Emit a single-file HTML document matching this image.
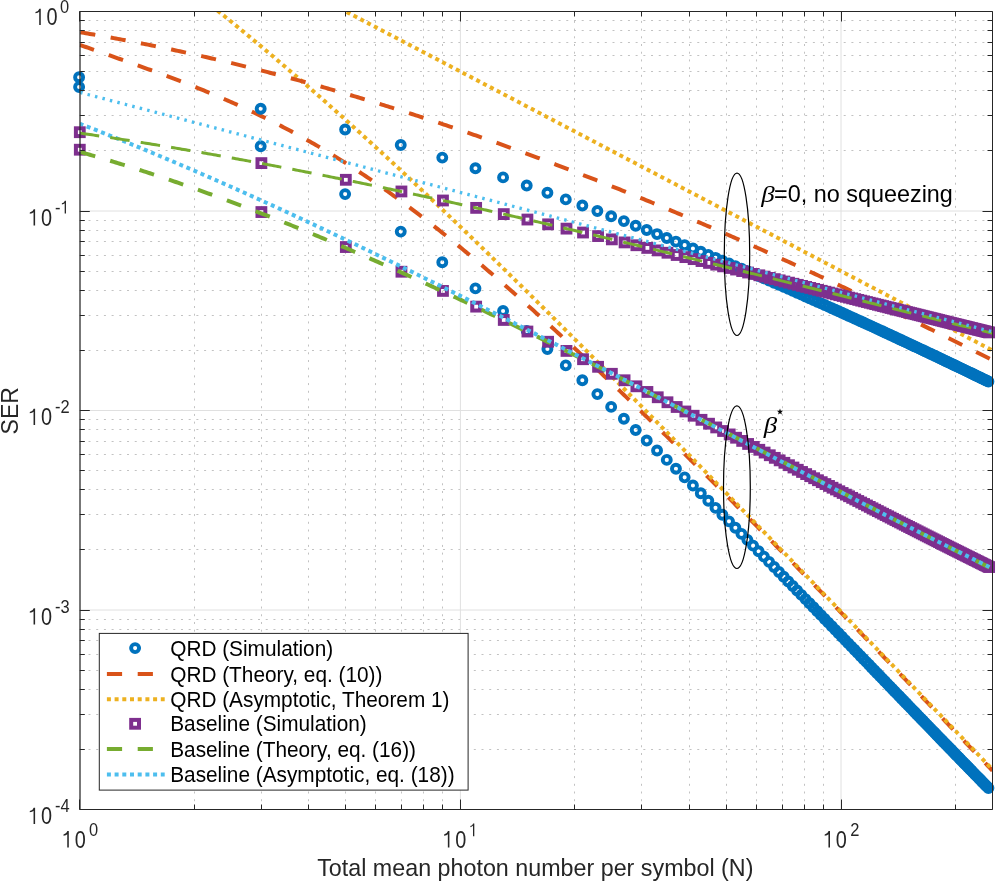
<!DOCTYPE html><html><head><meta charset='utf-8'><style>html,body{margin:0;padding:0;background:#fff;width:996px;height:881px;overflow:hidden}
.mg{stroke:#c2c2c2;stroke-width:1;stroke-dasharray:2 5.706;stroke-dashoffset:6.706}
.mgv{stroke:#c2c2c2;stroke-width:1;stroke-dasharray:2 5.706;stroke-dashoffset:6.006}
.Mg{stroke:#e0e0e0;stroke-width:1}</style></head><body><svg width="996" height="881" viewBox="0 0 996 881" style="display:block;will-change:transform">
<rect width="996" height="881" fill="#fff"/>
<defs><clipPath id="ax"><rect x="79.8" y="11.5" width="912.7" height="798.0"/></clipPath></defs>
<g><line x1="194.50" y1="11.5" x2="194.50" y2="809.5" class="mgv"/><line x1="261.50" y1="11.5" x2="261.50" y2="809.5" class="mgv"/><line x1="308.50" y1="11.5" x2="308.50" y2="809.5" class="mgv"/><line x1="345.50" y1="11.5" x2="345.50" y2="809.5" class="mgv"/><line x1="375.50" y1="11.5" x2="375.50" y2="809.5" class="mgv"/><line x1="401.50" y1="11.5" x2="401.50" y2="809.5" class="mgv"/><line x1="423.50" y1="11.5" x2="423.50" y2="809.5" class="mgv"/><line x1="442.50" y1="11.5" x2="442.50" y2="809.5" class="mgv"/><line x1="574.50" y1="11.5" x2="574.50" y2="809.5" class="mgv"/><line x1="641.50" y1="11.5" x2="641.50" y2="809.5" class="mgv"/><line x1="689.50" y1="11.5" x2="689.50" y2="809.5" class="mgv"/><line x1="726.50" y1="11.5" x2="726.50" y2="809.5" class="mgv"/><line x1="756.50" y1="11.5" x2="756.50" y2="809.5" class="mgv"/><line x1="782.50" y1="11.5" x2="782.50" y2="809.5" class="mgv"/><line x1="804.50" y1="11.5" x2="804.50" y2="809.5" class="mgv"/><line x1="823.50" y1="11.5" x2="823.50" y2="809.5" class="mgv"/><line x1="955.50" y1="11.5" x2="955.50" y2="809.5" class="mgv"/><line x1="79.8" y1="150.50" x2="992.5" y2="150.50" class="mg"/><line x1="79.8" y1="115.50" x2="992.5" y2="115.50" class="mg"/><line x1="79.8" y1="90.50" x2="992.5" y2="90.50" class="mg"/><line x1="79.8" y1="71.50" x2="992.5" y2="71.50" class="mg"/><line x1="79.8" y1="55.50" x2="992.5" y2="55.50" class="mg"/><line x1="79.8" y1="42.50" x2="992.5" y2="42.50" class="mg"/><line x1="79.8" y1="30.50" x2="992.5" y2="30.50" class="mg"/><line x1="79.8" y1="20.50" x2="992.5" y2="20.50" class="mg"/><line x1="79.8" y1="350.50" x2="992.5" y2="350.50" class="mg"/><line x1="79.8" y1="315.50" x2="992.5" y2="315.50" class="mg"/><line x1="79.8" y1="290.50" x2="992.5" y2="290.50" class="mg"/><line x1="79.8" y1="271.50" x2="992.5" y2="271.50" class="mg"/><line x1="79.8" y1="255.50" x2="992.5" y2="255.50" class="mg"/><line x1="79.8" y1="241.50" x2="992.5" y2="241.50" class="mg"/><line x1="79.8" y1="230.50" x2="992.5" y2="230.50" class="mg"/><line x1="79.8" y1="220.50" x2="992.5" y2="220.50" class="mg"/><line x1="79.8" y1="549.50" x2="992.5" y2="549.50" class="mg"/><line x1="79.8" y1="514.50" x2="992.5" y2="514.50" class="mg"/><line x1="79.8" y1="489.50" x2="992.5" y2="489.50" class="mg"/><line x1="79.8" y1="470.50" x2="992.5" y2="470.50" class="mg"/><line x1="79.8" y1="454.50" x2="992.5" y2="454.50" class="mg"/><line x1="79.8" y1="441.50" x2="992.5" y2="441.50" class="mg"/><line x1="79.8" y1="429.50" x2="992.5" y2="429.50" class="mg"/><line x1="79.8" y1="419.50" x2="992.5" y2="419.50" class="mg"/><line x1="79.8" y1="749.50" x2="992.5" y2="749.50" class="mg"/><line x1="79.8" y1="714.50" x2="992.5" y2="714.50" class="mg"/><line x1="79.8" y1="689.50" x2="992.5" y2="689.50" class="mg"/><line x1="79.8" y1="670.50" x2="992.5" y2="670.50" class="mg"/><line x1="79.8" y1="654.50" x2="992.5" y2="654.50" class="mg"/><line x1="79.8" y1="640.50" x2="992.5" y2="640.50" class="mg"/><line x1="79.8" y1="629.50" x2="992.5" y2="629.50" class="mg"/><line x1="79.8" y1="619.50" x2="992.5" y2="619.50" class="mg"/><line x1="460.40" y1="11.5" x2="460.40" y2="809.5" class="Mg"/><line x1="841.00" y1="11.5" x2="841.00" y2="809.5" class="Mg"/><line x1="79.8" y1="211.00" x2="992.5" y2="211.00" class="Mg"/><line x1="79.8" y1="410.50" x2="992.5" y2="410.50" class="Mg"/><line x1="79.8" y1="610.00" x2="992.5" y2="610.00" class="Mg"/></g>
<g fill="none" stroke="#0072BD" stroke-width="3.9"><circle cx="79.10" cy="87.05" r="4.0"/><circle cx="260.69" cy="146.20" r="4.0"/><circle cx="345.13" cy="194.11" r="4.0"/><circle cx="400.74" cy="231.59" r="4.0"/><circle cx="442.28" cy="262.31" r="4.0"/><circle cx="475.45" cy="288.37" r="4.0"/><circle cx="503.07" cy="311.02" r="4.0"/><circle cx="526.72" cy="331.07" r="4.0"/><circle cx="547.41" cy="349.05" r="4.0"/><circle cx="565.79" cy="365.37" r="4.0"/><circle cx="582.34" cy="380.31" r="4.0"/><circle cx="597.37" cy="394.09" r="4.0"/><circle cx="611.16" cy="406.88" r="4.0"/><circle cx="623.88" cy="418.81" r="4.0"/><circle cx="635.69" cy="430.00" r="4.0"/><circle cx="646.71" cy="440.52" r="4.0"/><circle cx="657.05" cy="450.46" r="4.0"/><circle cx="666.77" cy="459.88" r="4.0"/><circle cx="675.96" cy="468.82" r="4.0"/><circle cx="684.66" cy="477.34" r="4.0"/><circle cx="692.93" cy="485.47" r="4.0"/><circle cx="700.80" cy="493.25" r="4.0"/><circle cx="708.31" cy="500.70" r="4.0"/><circle cx="715.50" cy="507.85" r="4.0"/><circle cx="722.39" cy="514.73" r="4.0"/><circle cx="729.00" cy="521.36" r="4.0"/><circle cx="735.36" cy="527.74" r="4.0"/><circle cx="741.48" cy="533.91" r="4.0"/><circle cx="747.39" cy="539.87" r="4.0"/><circle cx="753.09" cy="545.64" r="4.0"/><circle cx="758.60" cy="551.22" r="4.0"/><circle cx="763.93" cy="556.64" r="4.0"/><circle cx="769.09" cy="561.90" r="4.0"/><circle cx="774.10" cy="567.00" r="4.0"/><circle cx="778.97" cy="571.96" r="4.0"/><circle cx="783.69" cy="576.79" r="4.0"/><circle cx="788.28" cy="581.49" r="4.0"/><circle cx="792.75" cy="586.06" r="4.0"/><circle cx="797.10" cy="590.52" r="4.0"/><circle cx="801.34" cy="594.88" r="4.0"/><circle cx="805.47" cy="599.12" r="4.0"/><circle cx="809.50" cy="603.27" r="4.0"/><circle cx="813.44" cy="607.32" r="4.0"/><circle cx="817.28" cy="611.28" r="4.0"/><circle cx="821.04" cy="615.15" r="4.0"/><circle cx="824.71" cy="618.94" r="4.0"/><circle cx="828.30" cy="622.65" r="4.0"/><circle cx="831.82" cy="626.28" r="4.0"/><circle cx="835.27" cy="629.84" r="4.0"/><circle cx="838.64" cy="633.32" r="4.0"/><circle cx="841.94" cy="636.74" r="4.0"/><circle cx="845.19" cy="640.10" r="4.0"/><circle cx="848.36" cy="643.38" r="4.0"/><circle cx="851.48" cy="646.61" r="4.0"/><circle cx="854.54" cy="649.78" r="4.0"/><circle cx="857.55" cy="652.89" r="4.0"/><circle cx="860.50" cy="655.95" r="4.0"/><circle cx="863.40" cy="658.96" r="4.0"/><circle cx="866.25" cy="661.91" r="4.0"/><circle cx="869.05" cy="664.81" r="4.0"/><circle cx="871.81" cy="667.67" r="4.0"/><circle cx="874.52" cy="670.48" r="4.0"/><circle cx="877.18" cy="673.24" r="4.0"/><circle cx="879.81" cy="675.96" r="4.0"/><circle cx="882.39" cy="678.64" r="4.0"/><circle cx="884.93" cy="681.27" r="4.0"/><circle cx="887.44" cy="683.87" r="4.0"/><circle cx="889.91" cy="686.43" r="4.0"/><circle cx="892.34" cy="688.95" r="4.0"/><circle cx="894.73" cy="691.43" r="4.0"/><circle cx="897.09" cy="693.88" r="4.0"/><circle cx="899.42" cy="696.29" r="4.0"/><circle cx="901.72" cy="698.67" r="4.0"/><circle cx="903.98" cy="701.02" r="4.0"/><circle cx="906.21" cy="703.33" r="4.0"/><circle cx="908.42" cy="705.61" r="4.0"/><circle cx="910.59" cy="707.87" r="4.0"/><circle cx="912.74" cy="710.09" r="4.0"/><circle cx="914.86" cy="712.28" r="4.0"/><circle cx="916.95" cy="714.45" r="4.0"/><circle cx="919.02" cy="716.59" r="4.0"/><circle cx="921.06" cy="718.70" r="4.0"/><circle cx="923.07" cy="720.79" r="4.0"/><circle cx="925.07" cy="722.85" r="4.0"/><circle cx="927.03" cy="724.88" r="4.0"/><circle cx="928.98" cy="726.89" r="4.0"/><circle cx="930.90" cy="728.88" r="4.0"/><circle cx="932.80" cy="730.84" r="4.0"/><circle cx="934.68" cy="732.79" r="4.0"/><circle cx="936.54" cy="734.70" r="4.0"/><circle cx="938.37" cy="736.60" r="4.0"/><circle cx="940.19" cy="738.48" r="4.0"/><circle cx="941.99" cy="740.33" r="4.0"/><circle cx="943.76" cy="742.17" r="4.0"/><circle cx="945.52" cy="743.98" r="4.0"/><circle cx="947.26" cy="745.77" r="4.0"/><circle cx="948.98" cy="747.55" r="4.0"/><circle cx="950.69" cy="749.31" r="4.0"/><circle cx="952.37" cy="751.04" r="4.0"/><circle cx="954.04" cy="752.76" r="4.0"/><circle cx="955.70" cy="754.47" r="4.0"/><circle cx="957.33" cy="756.15" r="4.0"/><circle cx="958.95" cy="757.82" r="4.0"/><circle cx="960.56" cy="759.47" r="4.0"/><circle cx="962.15" cy="761.10" r="4.0"/><circle cx="963.72" cy="762.72" r="4.0"/><circle cx="965.28" cy="764.33" r="4.0"/><circle cx="966.83" cy="765.91" r="4.0"/><circle cx="968.36" cy="767.49" r="4.0"/><circle cx="969.87" cy="769.04" r="4.0"/><circle cx="971.38" cy="770.58" r="4.0"/><circle cx="972.86" cy="772.11" r="4.0"/><circle cx="974.34" cy="773.63" r="4.0"/><circle cx="975.80" cy="775.13" r="4.0"/><circle cx="977.25" cy="776.61" r="4.0"/><circle cx="978.69" cy="778.08" r="4.0"/><circle cx="980.12" cy="779.54" r="4.0"/><circle cx="981.53" cy="780.99" r="4.0"/><circle cx="982.93" cy="782.42" r="4.0"/><circle cx="984.32" cy="783.85" r="4.0"/><circle cx="985.70" cy="785.25" r="4.0"/><circle cx="987.06" cy="786.65" r="4.0"/><circle cx="988.42" cy="788.04" r="4.0"/></g>
<g clip-path="url(#ax)" fill="none">
<path d="M79.80,44.87 L81.80,45.58 L83.80,46.29 L85.80,47.00 L87.80,47.71 L89.80,48.42 L91.80,49.13 L93.80,49.84 L95.80,50.54 L97.80,51.25 L99.80,51.96 L101.80,52.66 L103.80,53.37 L105.80,54.07 L107.80,54.78 L109.80,55.48 L111.80,56.19 L113.80,56.89 L115.80,57.60 L117.80,58.31 L119.80,59.01 L121.80,59.72 L123.80,60.43 L125.80,61.14 L127.80,61.85 L129.80,62.56 L131.80,63.27 L133.80,63.98 L135.80,64.70 L137.80,65.41 L139.80,66.13 L141.80,66.85 L143.80,67.57 L145.80,68.30 L147.80,69.02 L149.80,69.75 L151.80,70.48 L153.80,71.21 L155.80,71.94 L157.80,72.67 L159.80,73.41 L161.80,74.15 L163.80,74.90 L165.80,75.64 L167.80,76.39 L169.80,77.14 L171.80,77.90 L173.80,78.65 L175.80,79.42 L177.80,80.18 L179.80,80.95 L181.80,81.72 L183.80,82.49 L185.80,83.27 L187.80,84.05 L189.80,84.84 L191.80,85.63 L193.80,86.42 L195.80,87.22 L197.80,88.02 L199.80,88.83 L201.80,89.64 L203.80,90.46 L205.80,91.28 L207.80,92.10 L209.80,92.93 L211.80,93.77 L213.80,94.61 L215.80,95.45 L217.80,96.30 L219.80,97.16 L221.80,98.02 L223.80,98.88 L225.80,99.75 L227.80,100.62 L229.80,101.50 L231.80,102.39 L233.80,103.28 L235.80,104.18 L237.80,105.08 L239.80,105.98 L241.80,106.89 L243.80,107.81 L245.80,108.74 L247.80,109.66 L249.80,110.60 L251.80,111.54 L253.80,112.49 L255.80,113.44 L257.80,114.40 L259.80,115.36 L261.80,116.33 L263.80,117.31 L265.80,118.29 L267.80,119.28 L269.80,120.27 L271.80,121.27 L273.80,122.28 L275.80,123.29 L277.80,124.31 L279.80,125.34 L281.80,126.37 L283.80,127.41 L285.80,128.45 L287.80,129.51 L289.80,130.57 L291.80,131.63 L293.80,132.70 L295.80,133.78 L297.80,134.87 L299.80,135.96 L301.80,137.06 L303.80,138.17 L305.80,139.29 L307.80,140.41 L309.80,141.54 L311.80,142.67 L313.80,143.82 L315.80,144.97 L317.80,146.12 L319.80,147.29 L321.80,148.46 L323.80,149.64 L325.80,150.83 L327.80,152.03 L329.80,153.23 L331.80,154.44 L333.80,155.66 L335.80,156.89 L337.80,158.12 L339.80,159.37 L341.80,160.62 L343.80,161.87 L345.80,163.14 L347.80,164.42 L349.80,165.70 L351.80,166.99 L353.80,168.29 L355.80,169.59 L357.80,170.90 L359.80,172.23 L361.80,173.55 L363.80,174.89 L365.80,176.23 L367.80,177.58 L369.80,178.94 L371.80,180.31 L373.80,181.68 L375.80,183.06 L377.80,184.45 L379.80,185.84 L381.80,187.24 L383.80,188.65 L385.80,190.07 L387.80,191.49 L389.80,192.92 L391.80,194.35 L393.80,195.80 L395.80,197.25 L397.80,198.70 L399.80,200.17 L401.80,201.64 L403.80,203.11 L405.80,204.59 L407.80,206.08 L409.80,207.58 L411.80,209.08 L413.80,210.59 L415.80,212.10 L417.80,213.62 L419.80,215.15 L421.80,216.68 L423.80,218.22 L425.80,219.77 L427.80,221.32 L429.80,222.88 L431.80,224.44 L433.80,226.01 L435.80,227.58 L437.80,229.16 L439.80,230.75 L441.80,232.34 L443.80,233.94 L445.80,235.54 L447.80,237.15 L449.80,238.76 L451.80,240.38 L453.80,242.01 L455.80,243.64 L457.80,245.27 L459.80,246.91 L461.80,248.56 L463.80,250.21 L465.80,251.87 L467.80,253.53 L469.80,255.19 L471.80,256.86 L473.80,258.54 L475.80,260.22 L477.80,261.90 L479.80,263.59 L481.80,265.29 L483.80,266.99 L485.80,268.69 L487.80,270.40 L489.80,272.11 L491.80,273.83 L493.80,275.55 L495.80,277.28 L497.80,279.01 L499.80,280.75 L501.80,282.49 L503.80,284.23 L505.80,285.98 L507.80,287.73 L509.80,289.48 L511.80,291.24 L513.80,293.01 L515.80,294.77 L517.80,296.55 L519.80,298.32 L521.80,300.10 L523.80,301.88 L525.80,303.67 L527.80,305.46 L529.80,307.25 L531.80,309.05 L533.80,310.85 L535.80,312.65 L537.80,314.46 L539.80,316.27 L541.80,318.08 L543.80,319.90 L545.80,321.72 L547.80,323.54 L549.80,325.37 L551.80,327.20 L553.80,329.03 L555.80,330.87 L557.80,332.71 L559.80,334.55 L561.80,336.39 L563.80,338.24 L565.80,340.09 L567.80,341.94 L569.80,343.79 L571.80,345.65 L573.80,347.51 L575.80,349.37 L577.80,351.24 L579.80,353.10 L581.80,354.97 L583.80,356.84 L585.80,358.72 L587.80,360.59 L589.80,362.47 L591.80,364.35 L593.80,366.24 L595.80,368.12 L597.80,370.01 L599.80,371.90 L601.80,373.79 L603.80,375.69 L605.80,377.58 L607.80,379.48 L609.80,381.38 L611.80,383.28 L613.80,385.19 L615.80,387.10 L617.80,389.01 L619.80,390.92 L621.80,392.83 L623.80,394.75 L625.80,396.66 L627.80,398.58 L629.80,400.50 L631.80,402.43 L633.80,404.35 L635.80,406.28 L637.80,408.21 L639.80,410.14 L641.80,412.08 L643.80,414.01 L645.80,415.95 L647.80,417.89 L649.80,419.83 L651.80,421.78 L653.80,423.72 L655.80,425.67 L657.80,427.62 L659.80,429.57 L661.80,431.52 L663.80,433.48 L665.80,435.43 L667.80,437.39 L669.80,439.35 L671.80,441.31 L673.80,443.28 L675.80,445.24 L677.80,447.21 L679.80,449.18 L681.80,451.15 L683.80,453.12 L685.80,455.10 L687.80,457.07 L689.80,459.05 L691.80,461.03 L693.80,463.01 L695.80,464.99 L697.80,466.98 L699.80,468.96 L701.80,470.95 L703.80,472.94 L705.80,474.93 L707.80,476.92 L709.80,478.92 L711.80,480.91 L713.80,482.91 L715.80,484.91 L717.80,486.91 L719.80,488.91 L721.80,490.91 L723.80,492.91 L725.80,494.92 L727.80,496.93 L729.80,498.94 L731.80,500.95 L733.80,502.96 L735.80,504.97 L737.80,506.99 L739.80,509.00 L741.80,511.02 L743.80,513.04 L745.80,515.06 L747.80,517.08 L749.80,519.10 L751.80,521.13 L753.80,523.15 L755.80,525.18 L757.80,527.20 L759.80,529.23 L761.80,531.26 L763.80,533.30 L765.80,535.33 L767.80,537.36 L769.80,539.40 L771.80,541.43 L773.80,543.47 L775.80,545.51 L777.80,547.55 L779.80,549.59 L781.80,551.63 L783.80,553.68 L785.80,555.72 L787.80,557.77 L789.80,559.81 L791.80,561.86 L793.80,563.91 L795.80,565.96 L797.80,568.01 L799.80,570.06 L801.80,572.12 L803.80,574.17 L805.80,576.22 L807.80,578.28 L809.80,580.34 L811.80,582.40 L813.80,584.45 L815.80,586.51 L817.80,588.57 L819.80,590.64 L821.80,592.70 L823.80,594.76 L825.80,596.83 L827.80,598.89 L829.80,600.96 L831.80,603.02 L833.80,605.09 L835.80,607.16 L837.80,609.23 L839.80,611.30 L841.80,613.37 L843.80,615.44 L845.80,617.51 L847.80,619.59 L849.80,621.66 L851.80,623.73 L853.80,625.81 L855.80,627.88 L857.80,629.96 L859.80,632.04 L861.80,634.12 L863.80,636.19 L865.80,638.27 L867.80,640.35 L869.80,642.43 L871.80,644.51 L873.80,646.60 L875.80,648.68 L877.80,650.76 L879.80,652.84 L881.80,654.93 L883.80,657.01 L885.80,659.10 L887.80,661.18 L889.80,663.27 L891.80,665.35 L893.80,667.44 L895.80,669.53 L897.80,671.61 L899.80,673.70 L901.80,675.79 L903.80,677.88 L905.80,679.97 L907.80,682.06 L909.80,684.15 L911.80,686.24 L913.80,688.33 L915.80,690.42 L917.80,692.51 L919.80,694.60 L921.80,696.69 L923.80,698.79 L925.80,700.88 L927.80,702.97 L929.80,705.06 L931.80,707.16 L933.80,709.25 L935.80,711.34 L937.80,713.44 L939.80,715.53 L941.80,717.63 L943.80,719.72 L945.80,721.81 L947.80,723.91 L949.80,726.00 L951.80,728.10 L953.80,730.19 L955.80,732.29 L957.80,734.38 L959.80,736.48 L961.80,738.57 L963.80,740.67 L965.80,742.76 L967.80,744.86 L969.80,746.96 L971.80,749.05 L973.80,751.15 L975.80,753.24 L977.80,755.34 L979.80,757.43 L981.80,759.53 L983.80,761.62 L985.80,763.72 L987.80,765.81 L989.80,767.91 L991.80,770.00 L992.50,770.73" stroke="#D95319" stroke-width="4" stroke-dasharray="15.2 15.6" stroke-dashoffset="0.17"/>
<path d="M200.00,-3.40 L202.00,-1.81 L204.00,-0.23 L206.00,1.36 L208.00,2.96 L210.00,4.55 L212.00,6.15 L214.00,7.75 L216.00,9.36 L218.00,10.97 L220.00,12.58 L222.00,14.19 L224.00,15.81 L226.00,17.43 L228.00,19.05 L230.00,20.68 L232.00,22.31 L234.00,23.95 L236.00,25.58 L238.00,27.22 L240.00,28.86 L242.00,30.51 L244.00,32.16 L246.00,33.81 L248.00,35.47 L250.00,37.13 L252.00,38.79 L254.00,40.45 L256.00,42.12 L258.00,43.79 L260.00,45.46 L262.00,47.14 L264.00,48.82 L266.00,50.50 L268.00,52.19 L270.00,53.88 L272.00,55.57 L274.00,57.26 L276.00,58.96 L278.00,60.66 L280.00,62.37 L282.00,64.07 L284.00,65.78 L286.00,67.50 L288.00,69.21 L290.00,70.93 L292.00,72.65 L294.00,74.38 L296.00,76.10 L298.00,77.83 L300.00,79.57 L302.00,81.30 L304.00,83.04 L306.00,84.78 L308.00,86.53 L310.00,88.28 L312.00,90.03 L314.00,91.78 L316.00,93.53 L318.00,95.29 L320.00,97.05 L322.00,98.82 L324.00,100.58 L326.00,102.35 L328.00,104.13 L330.00,105.90 L332.00,107.68 L334.00,109.46 L336.00,111.24 L338.00,113.03 L340.00,114.82 L342.00,116.61 L344.00,118.40 L346.00,120.20 L348.00,121.99 L350.00,123.80 L352.00,125.60 L354.00,127.41 L356.00,129.22 L358.00,131.03 L360.00,132.84 L362.00,134.66 L364.00,136.48 L366.00,138.30 L368.00,140.12 L370.00,141.95 L372.00,143.78 L374.00,145.61 L376.00,147.44 L378.00,149.28 L380.00,151.11 L382.00,152.95 L384.00,154.80 L386.00,156.64 L388.00,158.49 L390.00,160.34 L392.00,162.19 L394.00,164.05 L396.00,165.90 L398.00,167.76 L400.00,169.62 L402.00,171.49 L404.00,173.35 L406.00,175.22 L408.00,177.09 L410.00,178.96 L412.00,180.84 L414.00,182.71 L416.00,184.59 L418.00,186.47 L420.00,188.35 L422.00,190.24 L424.00,192.12 L426.00,194.01 L428.00,195.90 L430.00,197.79 L432.00,199.69 L434.00,201.59 L436.00,203.48 L438.00,205.38 L440.00,207.29 L442.00,209.19 L444.00,211.10 L446.00,213.01 L448.00,214.91 L450.00,216.83 L452.00,218.74 L454.00,220.66 L456.00,222.57 L458.00,224.49 L460.00,226.41 L462.00,228.33 L464.00,230.26 L466.00,232.19 L468.00,234.11 L470.00,236.04 L472.00,237.97 L474.00,239.91 L476.00,241.84 L478.00,243.78 L480.00,245.71 L482.00,247.65 L484.00,249.59 L486.00,251.54 L488.00,253.48 L490.00,255.43 L492.00,257.37 L494.00,259.32 L496.00,261.27 L498.00,263.23 L500.00,265.18 L502.00,267.13 L504.00,269.09 L506.00,271.05 L508.00,273.01 L510.00,274.97 L512.00,276.93 L514.00,278.89 L516.00,280.86 L518.00,282.82 L520.00,284.79 L522.00,286.76 L524.00,288.73 L526.00,290.70 L528.00,292.68 L530.00,294.65 L532.00,296.63 L534.00,298.60 L536.00,300.58 L538.00,302.56 L540.00,304.54 L542.00,306.52 L544.00,308.51 L546.00,310.49 L548.00,312.48 L550.00,314.46 L552.00,316.45 L554.00,318.44 L556.00,320.43 L558.00,322.42 L560.00,324.42 L562.00,326.41 L564.00,328.41 L566.00,330.40 L568.00,332.40 L570.00,334.40 L572.00,336.40 L574.00,338.40 L576.00,340.40 L578.00,342.40 L580.00,344.40 L582.00,346.41 L584.00,348.41 L586.00,350.42 L588.00,352.43 L590.00,354.44 L592.00,356.45 L594.00,358.46 L596.00,360.47 L598.00,362.48 L600.00,364.49 L602.00,366.51 L604.00,368.52 L606.00,370.54 L608.00,372.56 L610.00,374.57 L612.00,376.59 L614.00,378.61 L616.00,380.63 L618.00,382.65 L620.00,384.67 L622.00,386.70 L624.00,388.72 L626.00,390.75 L628.00,392.77 L630.00,394.80 L632.00,396.82 L634.00,398.85 L636.00,400.88 L638.00,402.91 L640.00,404.94 L642.00,406.97 L644.00,409.00 L646.00,411.03 L648.00,413.07 L650.00,415.10 L652.00,417.14 L654.00,419.17 L656.00,421.21 L658.00,423.24 L660.00,425.28 L662.00,427.32 L664.00,429.36 L666.00,431.40 L668.00,433.44 L670.00,435.48 L672.00,437.52 L674.00,439.56 L676.00,441.60 L678.00,443.65 L680.00,445.69 L682.00,447.73 L684.00,449.78 L686.00,451.82 L688.00,453.87 L690.00,455.92 L692.00,457.96 L694.00,460.01 L696.00,462.06 L698.00,464.11 L700.00,466.16 L702.00,468.21 L704.00,470.26 L706.00,472.31 L708.00,474.36 L710.00,476.41 L712.00,478.47 L714.00,480.52 L716.00,482.57 L718.00,484.63 L720.00,486.68 L722.00,488.74 L724.00,490.79 L726.00,492.85 L728.00,494.90 L730.00,496.96 L732.00,499.02 L734.00,501.08 L736.00,503.13 L738.00,505.19 L740.00,507.25 L742.00,509.31 L744.00,511.37 L746.00,513.43 L748.00,515.49 L750.00,517.55 L752.00,519.62 L754.00,521.68 L756.00,523.74 L758.00,525.80 L760.00,527.87 L762.00,529.93 L764.00,532.00 L766.00,534.06 L768.00,536.12 L770.00,538.19 L772.00,540.26 L774.00,542.32 L776.00,544.39 L778.00,546.45 L780.00,548.52 L782.00,550.59 L784.00,552.66 L786.00,554.72 L788.00,556.79 L790.00,558.86 L792.00,560.93 L794.00,563.00 L796.00,565.07 L798.00,567.14 L800.00,569.21 L802.00,571.28 L804.00,573.35 L806.00,575.42 L808.00,577.49 L810.00,579.57 L812.00,581.64 L814.00,583.71 L816.00,585.78 L818.00,587.86 L820.00,589.93 L822.00,592.00 L824.00,594.08 L826.00,596.15 L828.00,598.23 L830.00,600.30 L832.00,602.38 L834.00,604.45 L836.00,606.53 L838.00,608.60 L840.00,610.68 L842.00,612.75 L844.00,614.83 L846.00,616.91 L848.00,618.98 L850.00,621.06 L852.00,623.14 L854.00,625.22 L856.00,627.29 L858.00,629.37 L860.00,631.45 L862.00,633.53 L864.00,635.61 L866.00,637.69 L868.00,639.76 L870.00,641.84 L872.00,643.92 L874.00,646.00 L876.00,648.08 L878.00,650.16 L880.00,652.24 L882.00,654.32 L884.00,656.40 L886.00,658.49 L888.00,660.57 L890.00,662.65 L892.00,664.73 L894.00,666.81 L896.00,668.89 L898.00,670.97 L900.00,673.06 L902.00,675.14 L904.00,677.22 L906.00,679.30 L908.00,681.39 L910.00,683.47 L912.00,685.55 L914.00,687.64 L916.00,689.72 L918.00,691.80 L920.00,693.89 L922.00,695.97 L924.00,698.06 L926.00,700.14 L928.00,702.22 L930.00,704.31 L932.00,706.39 L934.00,708.48 L936.00,710.56 L938.00,712.65 L940.00,714.73 L942.00,716.82 L944.00,718.90 L946.00,720.99 L948.00,723.08 L950.00,725.16 L952.00,727.25 L954.00,729.33 L956.00,731.42 L958.00,733.51 L960.00,735.59 L962.00,737.68 L964.00,739.77 L966.00,741.85 L968.00,743.94 L970.00,746.03 L972.00,748.11 L974.00,750.20 L976.00,752.29 L978.00,754.38 L980.00,756.46 L982.00,758.55 L984.00,760.64 L986.00,762.73 L988.00,764.82 L990.00,766.90 L992.00,768.99 L992.50,769.51" stroke="#EDB120" stroke-width="4" stroke-dasharray="4 3.7" stroke-dashoffset="0.68"/>
</g>
<g fill="none" stroke="#7E2F8E" stroke-width="4"><rect x="75.90" y="145.81" width="7.8" height="7.8"/><rect x="257.49" y="208.15" width="7.8" height="7.8"/><rect x="341.93" y="243.14" width="7.8" height="7.8"/><rect x="397.54" y="267.83" width="7.8" height="7.8"/><rect x="439.08" y="287.02" width="7.8" height="7.8"/><rect x="472.25" y="302.73" width="7.8" height="7.8"/><rect x="499.87" y="316.06" width="7.8" height="7.8"/><rect x="523.52" y="327.63" width="7.8" height="7.8"/><rect x="544.21" y="337.85" width="7.8" height="7.8"/><rect x="562.59" y="347.02" width="7.8" height="7.8"/><rect x="579.14" y="355.32" width="7.8" height="7.8"/><rect x="594.17" y="362.91" width="7.8" height="7.8"/><rect x="607.96" y="369.90" width="7.8" height="7.8"/><rect x="620.68" y="376.37" width="7.8" height="7.8"/><rect x="632.49" y="382.41" width="7.8" height="7.8"/><rect x="643.51" y="388.05" width="7.8" height="7.8"/><rect x="653.85" y="393.36" width="7.8" height="7.8"/><rect x="663.57" y="398.36" width="7.8" height="7.8"/><rect x="672.76" y="403.09" width="7.8" height="7.8"/><rect x="681.46" y="407.58" width="7.8" height="7.8"/><rect x="689.73" y="411.85" width="7.8" height="7.8"/><rect x="697.60" y="415.92" width="7.8" height="7.8"/><rect x="705.11" y="419.81" width="7.8" height="7.8"/><rect x="712.30" y="423.53" width="7.8" height="7.8"/><rect x="719.19" y="427.10" width="7.8" height="7.8"/><rect x="725.80" y="430.53" width="7.8" height="7.8"/><rect x="732.16" y="433.83" width="7.8" height="7.8"/><rect x="738.28" y="437.01" width="7.8" height="7.8"/><rect x="744.19" y="440.07" width="7.8" height="7.8"/><rect x="749.89" y="443.03" width="7.8" height="7.8"/><rect x="755.40" y="445.89" width="7.8" height="7.8"/><rect x="760.73" y="448.66" width="7.8" height="7.8"/><rect x="765.89" y="451.34" width="7.8" height="7.8"/><rect x="770.90" y="453.94" width="7.8" height="7.8"/><rect x="775.77" y="456.46" width="7.8" height="7.8"/><rect x="780.49" y="458.91" width="7.8" height="7.8"/><rect x="785.08" y="461.29" width="7.8" height="7.8"/><rect x="789.55" y="463.61" width="7.8" height="7.8"/><rect x="793.90" y="465.87" width="7.8" height="7.8"/><rect x="798.14" y="468.06" width="7.8" height="7.8"/><rect x="802.27" y="470.20" width="7.8" height="7.8"/><rect x="806.30" y="472.29" width="7.8" height="7.8"/><rect x="810.24" y="474.33" width="7.8" height="7.8"/><rect x="814.08" y="476.32" width="7.8" height="7.8"/><rect x="817.84" y="478.26" width="7.8" height="7.8"/><rect x="821.51" y="480.16" width="7.8" height="7.8"/><rect x="825.10" y="482.02" width="7.8" height="7.8"/><rect x="828.62" y="483.83" width="7.8" height="7.8"/><rect x="832.07" y="485.61" width="7.8" height="7.8"/><rect x="835.44" y="487.35" width="7.8" height="7.8"/><rect x="838.74" y="489.06" width="7.8" height="7.8"/><rect x="841.99" y="490.73" width="7.8" height="7.8"/><rect x="845.16" y="492.37" width="7.8" height="7.8"/><rect x="848.28" y="493.97" width="7.8" height="7.8"/><rect x="851.34" y="495.55" width="7.8" height="7.8"/><rect x="854.35" y="497.09" width="7.8" height="7.8"/><rect x="857.30" y="498.61" width="7.8" height="7.8"/><rect x="860.20" y="500.10" width="7.8" height="7.8"/><rect x="863.05" y="501.56" width="7.8" height="7.8"/><rect x="865.85" y="503.00" width="7.8" height="7.8"/><rect x="868.61" y="504.41" width="7.8" height="7.8"/><rect x="871.32" y="505.80" width="7.8" height="7.8"/><rect x="873.98" y="507.17" width="7.8" height="7.8"/><rect x="876.61" y="508.51" width="7.8" height="7.8"/><rect x="879.19" y="509.83" width="7.8" height="7.8"/><rect x="881.73" y="511.13" width="7.8" height="7.8"/><rect x="884.24" y="512.41" width="7.8" height="7.8"/><rect x="886.71" y="513.67" width="7.8" height="7.8"/><rect x="889.14" y="514.91" width="7.8" height="7.8"/><rect x="891.53" y="516.13" width="7.8" height="7.8"/><rect x="893.89" y="517.34" width="7.8" height="7.8"/><rect x="896.22" y="518.52" width="7.8" height="7.8"/><rect x="898.52" y="519.69" width="7.8" height="7.8"/><rect x="900.78" y="520.84" width="7.8" height="7.8"/><rect x="903.01" y="521.98" width="7.8" height="7.8"/><rect x="905.22" y="523.10" width="7.8" height="7.8"/><rect x="907.39" y="524.20" width="7.8" height="7.8"/><rect x="909.54" y="525.29" width="7.8" height="7.8"/><rect x="911.66" y="526.37" width="7.8" height="7.8"/><rect x="913.75" y="527.43" width="7.8" height="7.8"/><rect x="915.82" y="528.47" width="7.8" height="7.8"/><rect x="917.86" y="529.51" width="7.8" height="7.8"/><rect x="919.87" y="530.52" width="7.8" height="7.8"/><rect x="921.87" y="531.53" width="7.8" height="7.8"/><rect x="923.83" y="532.52" width="7.8" height="7.8"/><rect x="925.78" y="533.51" width="7.8" height="7.8"/><rect x="927.70" y="534.48" width="7.8" height="7.8"/><rect x="929.60" y="535.43" width="7.8" height="7.8"/><rect x="931.48" y="536.38" width="7.8" height="7.8"/><rect x="933.34" y="537.31" width="7.8" height="7.8"/><rect x="935.17" y="538.24" width="7.8" height="7.8"/><rect x="936.99" y="539.15" width="7.8" height="7.8"/><rect x="938.79" y="540.05" width="7.8" height="7.8"/><rect x="940.56" y="540.95" width="7.8" height="7.8"/><rect x="942.32" y="541.83" width="7.8" height="7.8"/><rect x="944.06" y="542.70" width="7.8" height="7.8"/><rect x="945.78" y="543.56" width="7.8" height="7.8"/><rect x="947.49" y="544.42" width="7.8" height="7.8"/><rect x="949.17" y="545.26" width="7.8" height="7.8"/><rect x="950.84" y="546.10" width="7.8" height="7.8"/><rect x="952.50" y="546.92" width="7.8" height="7.8"/><rect x="954.13" y="547.74" width="7.8" height="7.8"/><rect x="955.75" y="548.55" width="7.8" height="7.8"/><rect x="957.36" y="549.35" width="7.8" height="7.8"/><rect x="958.95" y="550.14" width="7.8" height="7.8"/><rect x="960.52" y="550.93" width="7.8" height="7.8"/><rect x="962.08" y="551.70" width="7.8" height="7.8"/><rect x="963.63" y="552.47" width="7.8" height="7.8"/><rect x="965.16" y="553.23" width="7.8" height="7.8"/><rect x="966.67" y="553.98" width="7.8" height="7.8"/><rect x="968.18" y="554.73" width="7.8" height="7.8"/><rect x="969.66" y="555.47" width="7.8" height="7.8"/><rect x="971.14" y="556.20" width="7.8" height="7.8"/><rect x="972.60" y="556.93" width="7.8" height="7.8"/><rect x="974.05" y="557.64" width="7.8" height="7.8"/><rect x="975.49" y="558.36" width="7.8" height="7.8"/><rect x="976.92" y="559.06" width="7.8" height="7.8"/><rect x="978.33" y="559.76" width="7.8" height="7.8"/><rect x="979.73" y="560.45" width="7.8" height="7.8"/><rect x="981.12" y="561.14" width="7.8" height="7.8"/><rect x="982.50" y="561.82" width="7.8" height="7.8"/><rect x="983.86" y="562.49" width="7.8" height="7.8"/><rect x="985.22" y="563.16" width="7.8" height="7.8"/></g>
<g clip-path="url(#ax)" fill="none">
<path d="M79.80,151.88 L81.80,152.44 L83.80,153.01 L85.80,153.59 L87.80,154.16 L89.80,154.74 L91.80,155.32 L93.80,155.90 L95.80,156.49 L97.80,157.07 L99.80,157.67 L101.80,158.26 L103.80,158.86 L105.80,159.45 L107.80,160.06 L109.80,160.66 L111.80,161.27 L113.80,161.87 L115.80,162.49 L117.80,163.10 L119.80,163.72 L121.80,164.34 L123.80,164.96 L125.80,165.58 L127.80,166.21 L129.80,166.84 L131.80,167.47 L133.80,168.11 L135.80,168.74 L137.80,169.38 L139.80,170.02 L141.80,170.67 L143.80,171.32 L145.80,171.97 L147.80,172.62 L149.80,173.27 L151.80,173.93 L153.80,174.59 L155.80,175.25 L157.80,175.91 L159.80,176.58 L161.80,177.25 L163.80,177.92 L165.80,178.59 L167.80,179.27 L169.80,179.95 L171.80,180.63 L173.80,181.31 L175.80,182.00 L177.80,182.69 L179.80,183.38 L181.80,184.07 L183.80,184.76 L185.80,185.46 L187.80,186.16 L189.80,186.86 L191.80,187.57 L193.80,188.27 L195.80,188.98 L197.80,189.69 L199.80,190.40 L201.80,191.12 L203.80,191.84 L205.80,192.56 L207.80,193.28 L209.80,194.00 L211.80,194.73 L213.80,195.46 L215.80,196.19 L217.80,196.92 L219.80,197.66 L221.80,198.40 L223.80,199.13 L225.80,199.88 L227.80,200.62 L229.80,201.37 L231.80,202.11 L233.80,202.86 L235.80,203.62 L237.80,204.37 L239.80,205.13 L241.80,205.89 L243.80,206.65 L245.80,207.41 L247.80,208.17 L249.80,208.94 L251.80,209.71 L253.80,210.48 L255.80,211.25 L257.80,212.03 L259.80,212.81 L261.80,213.59 L263.80,214.37 L265.80,215.15 L267.80,215.94 L269.80,216.72 L271.80,217.51 L273.80,218.30 L275.80,219.10 L277.80,219.89 L279.80,220.69 L281.80,221.49 L283.80,222.29 L285.80,223.09 L287.80,223.89 L289.80,224.70 L291.80,225.51 L293.80,226.32 L295.80,227.13 L297.80,227.95 L299.80,228.76 L301.80,229.58 L303.80,230.40 L305.80,231.22 L307.80,232.04 L309.80,232.87 L311.80,233.70 L313.80,234.52 L315.80,235.35 L317.80,236.19 L319.80,237.02 L321.80,237.86 L323.80,238.69 L325.80,239.53 L327.80,240.38 L329.80,241.22 L331.80,242.06 L333.80,242.91 L335.80,243.76 L337.80,244.61 L339.80,245.46 L341.80,246.31 L343.80,247.17 L345.80,248.02 L347.80,248.88 L349.80,249.74 L351.80,250.60 L353.80,251.47 L355.80,252.33 L357.80,253.20 L359.80,254.07 L361.80,254.94 L363.80,255.81 L365.80,256.68 L367.80,257.55 L369.80,258.43 L371.80,259.31 L373.80,260.19 L375.80,261.07 L377.80,261.95 L379.80,262.84 L381.80,263.72 L383.80,264.61 L385.80,265.50 L387.80,266.39 L389.80,267.28 L391.80,268.17 L393.80,269.07 L395.80,269.96 L397.80,270.86 L399.80,271.76 L401.80,272.66 L403.80,273.56 L405.80,274.47 L407.80,275.37 L409.80,276.28 L411.80,277.19 L413.80,278.09 L415.80,279.01 L417.80,279.92 L419.80,280.83 L421.80,281.75 L423.80,282.66 L425.80,283.58 L427.80,284.50 L429.80,285.42 L431.80,286.34 L433.80,287.26 L435.80,288.19 L437.80,289.11 L439.80,290.04 L441.80,290.97 L443.80,291.90 L445.80,292.83 L447.80,293.76 L449.80,294.69 L451.80,295.63 L453.80,296.57 L455.80,297.50 L457.80,298.44 L459.80,299.38 L461.80,300.32 L463.80,301.26 L465.80,302.21 L467.80,303.15 L469.80,304.10 L471.80,305.04 L473.80,305.99 L475.80,306.94 L477.80,307.89 L479.80,308.84 L481.80,309.80 L483.80,310.75 L485.80,311.71 L487.80,312.66 L489.80,313.62 L491.80,314.58 L493.80,315.54 L495.80,316.50 L497.80,317.46 L499.80,318.42 L501.80,319.39 L503.80,320.35 L505.80,321.32 L507.80,322.29 L509.80,323.25 L511.80,324.22 L513.80,325.19 L515.80,326.17 L517.80,327.14 L519.80,328.11 L521.80,329.08 L523.80,330.06 L525.80,331.04 L527.80,332.01 L529.80,332.99 L531.80,333.97 L533.80,334.95 L535.80,335.93 L537.80,336.91 L539.80,337.90 L541.80,338.88 L543.80,339.87 L545.80,340.85 L547.80,341.84 L549.80,342.83 L551.80,343.81 L553.80,344.80 L555.80,345.79 L557.80,346.78 L559.80,347.78 L561.80,348.77 L563.80,349.76 L565.80,350.76 L567.80,351.75 L569.80,352.75 L571.80,353.74 L573.80,354.74 L575.80,355.74 L577.80,356.74 L579.80,357.74 L581.80,358.74 L583.80,359.74 L585.80,360.74 L587.80,361.75 L589.80,362.75 L591.80,363.75 L593.80,364.76 L595.80,365.76 L597.80,366.77 L599.80,367.78 L601.80,368.79 L603.80,369.79 L605.80,370.80 L607.80,371.81 L609.80,372.82 L611.80,373.83 L613.80,374.85 L615.80,375.86 L617.80,376.87 L619.80,377.89 L621.80,378.90 L623.80,379.91 L625.80,380.93 L627.80,381.95 L629.80,382.96 L631.80,383.98 L633.80,385.00 L635.80,386.02 L637.80,387.03 L639.80,388.05 L641.80,389.07 L643.80,390.09 L645.80,391.11 L647.80,392.14 L649.80,393.16 L651.80,394.18 L653.80,395.20 L655.80,396.23 L657.80,397.25 L659.80,398.27 L661.80,399.30 L663.80,400.32 L665.80,401.35 L667.80,402.38 L669.80,403.40 L671.80,404.43 L673.80,405.46 L675.80,406.48 L677.80,407.51 L679.80,408.54 L681.80,409.57 L683.80,410.60 L685.80,411.63 L687.80,412.66 L689.80,413.69 L691.80,414.72 L693.80,415.75 L695.80,416.78 L697.80,417.81 L699.80,418.84 L701.80,419.88 L703.80,420.91 L705.80,421.94 L707.80,422.97 L709.80,424.01 L711.80,425.04 L713.80,426.08 L715.80,427.11 L717.80,428.14 L719.80,429.18 L721.80,430.21 L723.80,431.25 L725.80,432.28 L727.80,433.32 L729.80,434.35 L731.80,435.39 L733.80,436.42 L735.80,437.46 L737.80,438.50 L739.80,439.53 L741.80,440.57 L743.80,441.61 L745.80,442.64 L747.80,443.68 L749.80,444.72 L751.80,445.75 L753.80,446.79 L755.80,447.83 L757.80,448.86 L759.80,449.90 L761.80,450.94 L763.80,451.98 L765.80,453.01 L767.80,454.05 L769.80,455.09 L771.80,456.13 L773.80,457.16 L775.80,458.20 L777.80,459.24 L779.80,460.28 L781.80,461.31 L783.80,462.35 L785.80,463.39 L787.80,464.43 L789.80,465.46 L791.80,466.50 L793.80,467.54 L795.80,468.58 L797.80,469.61 L799.80,470.65 L801.80,471.69 L803.80,472.72 L805.80,473.76 L807.80,474.80 L809.80,475.83 L811.80,476.87 L813.80,477.91 L815.80,478.94 L817.80,479.98 L819.80,481.01 L821.80,482.05 L823.80,483.08 L825.80,484.12 L827.80,485.15 L829.80,486.19 L831.80,487.22 L833.80,488.26 L835.80,489.29 L837.80,490.33 L839.80,491.36 L841.80,492.39 L843.80,493.43 L845.80,494.46 L847.80,495.49 L849.80,496.52 L851.80,497.56 L853.80,498.59 L855.80,499.62 L857.80,500.65 L859.80,501.68 L861.80,502.71 L863.80,503.74 L865.80,504.77 L867.80,505.80 L869.80,506.83 L871.80,507.86 L873.80,508.89 L875.80,509.91 L877.80,510.94 L879.80,511.97 L881.80,513.00 L883.80,514.02 L885.80,515.05 L887.80,516.07 L889.80,517.10 L891.80,518.12 L893.80,519.15 L895.80,520.17 L897.80,521.19 L899.80,522.22 L901.80,523.24 L903.80,524.26 L905.80,525.28 L907.80,526.30 L909.80,527.32 L911.80,528.34 L913.80,529.36 L915.80,530.38 L917.80,531.40 L919.80,532.41 L921.80,533.43 L923.80,534.45 L925.80,535.46 L927.80,536.48 L929.80,537.49 L931.80,538.51 L933.80,539.52 L935.80,540.53 L937.80,541.55 L939.80,542.56 L941.80,543.57 L943.80,544.58 L945.80,545.59 L947.80,546.60 L949.80,547.60 L951.80,548.61 L953.80,549.62 L955.80,550.62 L957.80,551.63 L959.80,552.63 L961.80,553.64 L963.80,554.64 L965.80,555.64 L967.80,556.65 L969.80,557.65 L971.80,558.65 L973.80,559.65 L975.80,560.65 L977.80,561.64 L979.80,562.64 L981.80,563.64 L983.80,564.63 L985.80,565.63 L987.80,566.62 L989.80,567.61 L991.80,568.61 L992.50,568.95" stroke="#77AC30" stroke-width="4" stroke-dasharray="15.2 15.6" stroke-dashoffset="29.95"/>
<path d="M79.80,123.73 L81.80,124.50 L83.80,125.28 L85.80,126.06 L87.80,126.84 L89.80,127.62 L91.80,128.40 L93.80,129.19 L95.80,129.98 L97.80,130.77 L99.80,131.56 L101.80,132.35 L103.80,133.14 L105.80,133.94 L107.80,134.73 L109.80,135.53 L111.80,136.33 L113.80,137.14 L115.80,137.94 L117.80,138.74 L119.80,139.55 L121.80,140.36 L123.80,141.17 L125.80,141.98 L127.80,142.80 L129.80,143.61 L131.80,144.43 L133.80,145.24 L135.80,146.06 L137.80,146.89 L139.80,147.71 L141.80,148.53 L143.80,149.36 L145.80,150.19 L147.80,151.01 L149.80,151.85 L151.80,152.68 L153.80,153.51 L155.80,154.35 L157.80,155.18 L159.80,156.02 L161.80,156.86 L163.80,157.70 L165.80,158.54 L167.80,159.39 L169.80,160.23 L171.80,161.08 L173.80,161.93 L175.80,162.78 L177.80,163.63 L179.80,164.48 L181.80,165.34 L183.80,166.19 L185.80,167.05 L187.80,167.91 L189.80,168.77 L191.80,169.63 L193.80,170.49 L195.80,171.36 L197.80,172.22 L199.80,173.09 L201.80,173.96 L203.80,174.83 L205.80,175.70 L207.80,176.57 L209.80,177.45 L211.80,178.32 L213.80,179.20 L215.80,180.08 L217.80,180.96 L219.80,181.84 L221.80,182.72 L223.80,183.60 L225.80,184.49 L227.80,185.37 L229.80,186.26 L231.80,187.15 L233.80,188.04 L235.80,188.93 L237.80,189.82 L239.80,190.72 L241.80,191.61 L243.80,192.51 L245.80,193.41 L247.80,194.31 L249.80,195.21 L251.80,196.11 L253.80,197.01 L255.80,197.91 L257.80,198.82 L259.80,199.73 L261.80,200.63 L263.80,201.54 L265.80,202.45 L267.80,203.36 L269.80,204.28 L271.80,205.19 L273.80,206.10 L275.80,207.02 L277.80,207.94 L279.80,208.86 L281.80,209.78 L283.80,210.70 L285.80,211.62 L287.80,212.54 L289.80,213.47 L291.80,214.39 L293.80,215.32 L295.80,216.25 L297.80,217.17 L299.80,218.10 L301.80,219.03 L303.80,219.97 L305.80,220.90 L307.80,221.83 L309.80,222.77 L311.80,223.71 L313.80,224.64 L315.80,225.58 L317.80,226.52 L319.80,227.46 L321.80,228.40 L323.80,229.35 L325.80,230.29 L327.80,231.24 L329.80,232.18 L331.80,233.13 L333.80,234.08 L335.80,235.03 L337.80,235.98 L339.80,236.93 L341.80,237.88 L343.80,238.83 L345.80,239.79 L347.80,240.74 L349.80,241.70 L351.80,242.65 L353.80,243.61 L355.80,244.57 L357.80,245.53 L359.80,246.49 L361.80,247.45 L363.80,248.42 L365.80,249.38 L367.80,250.34 L369.80,251.31 L371.80,252.28 L373.80,253.24 L375.80,254.21 L377.80,255.18 L379.80,256.15 L381.80,257.12 L383.80,258.09 L385.80,259.07 L387.80,260.04 L389.80,261.01 L391.80,261.99 L393.80,262.97 L395.80,263.94 L397.80,264.92 L399.80,265.90 L401.80,266.88 L403.80,267.86 L405.80,268.84 L407.80,269.82 L409.80,270.81 L411.80,271.79 L413.80,272.77 L415.80,273.76 L417.80,274.74 L419.80,275.73 L421.80,276.72 L423.80,277.71 L425.80,278.70 L427.80,279.69 L429.80,280.68 L431.80,281.67 L433.80,282.66 L435.80,283.65 L437.80,284.65 L439.80,285.64 L441.80,286.64 L443.80,287.63 L445.80,288.63 L447.80,289.63 L449.80,290.62 L451.80,291.62 L453.80,292.62 L455.80,293.62 L457.80,294.62 L459.80,295.62 L461.80,296.62 L463.80,297.63 L465.80,298.63 L467.80,299.63 L469.80,300.64 L471.80,301.64 L473.80,302.65 L475.80,303.66 L477.80,304.66 L479.80,305.67 L481.80,306.68 L483.80,307.69 L485.80,308.70 L487.80,309.71 L489.80,310.72 L491.80,311.73 L493.80,312.74 L495.80,313.75 L497.80,314.77 L499.80,315.78 L501.80,316.80 L503.80,317.81 L505.80,318.83 L507.80,319.84 L509.80,320.86 L511.80,321.87 L513.80,322.89 L515.80,323.91 L517.80,324.93 L519.80,325.95 L521.80,326.97 L523.80,327.99 L525.80,329.01 L527.80,330.03 L529.80,331.05 L531.80,332.07 L533.80,333.09 L535.80,334.12 L537.80,335.14 L539.80,336.16 L541.80,337.19 L543.80,338.21 L545.80,339.24 L547.80,340.26 L549.80,341.29 L551.80,342.31 L553.80,343.34 L555.80,344.37 L557.80,345.40 L559.80,346.42 L561.80,347.45 L563.80,348.48 L565.80,349.51 L567.80,350.54 L569.80,351.57 L571.80,352.60 L573.80,353.63 L575.80,354.66 L577.80,355.69 L579.80,356.72 L581.80,357.75 L583.80,358.79 L585.80,359.82 L587.80,360.85 L589.80,361.88 L591.80,362.92 L593.80,363.95 L595.80,364.99 L597.80,366.02 L599.80,367.06 L601.80,368.09 L603.80,369.13 L605.80,370.16 L607.80,371.20 L609.80,372.23 L611.80,373.27 L613.80,374.30 L615.80,375.34 L617.80,376.38 L619.80,377.42 L621.80,378.45 L623.80,379.49 L625.80,380.53 L627.80,381.57 L629.80,382.60 L631.80,383.64 L633.80,384.68 L635.80,385.72 L637.80,386.76 L639.80,387.80 L641.80,388.84 L643.80,389.88 L645.80,390.92 L647.80,391.96 L649.80,393.00 L651.80,394.04 L653.80,395.08 L655.80,396.12 L657.80,397.16 L659.80,398.20 L661.80,399.24 L663.80,400.28 L665.80,401.32 L667.80,402.36 L669.80,403.40 L671.80,404.44 L673.80,405.48 L675.80,406.53 L677.80,407.57 L679.80,408.61 L681.80,409.65 L683.80,410.69 L685.80,411.73 L687.80,412.77 L689.80,413.82 L691.80,414.86 L693.80,415.90 L695.80,416.94 L697.80,417.98 L699.80,419.02 L701.80,420.07 L703.80,421.11 L705.80,422.15 L707.80,423.19 L709.80,424.23 L711.80,425.27 L713.80,426.32 L715.80,427.36 L717.80,428.40 L719.80,429.44 L721.80,430.48 L723.80,431.52 L725.80,432.56 L727.80,433.61 L729.80,434.65 L731.80,435.69 L733.80,436.73 L735.80,437.77 L737.80,438.81 L739.80,439.85 L741.80,440.89 L743.80,441.93 L745.80,442.97 L747.80,444.01 L749.80,445.05 L751.80,446.09 L753.80,447.13 L755.80,448.17 L757.80,449.21 L759.80,450.25 L761.80,451.29 L763.80,452.33 L765.80,453.37 L767.80,454.41 L769.80,455.44 L771.80,456.48 L773.80,457.52 L775.80,458.56 L777.80,459.60 L779.80,460.63 L781.80,461.67 L783.80,462.71 L785.80,463.74 L787.80,464.78 L789.80,465.82 L791.80,466.85 L793.80,467.89 L795.80,468.92 L797.80,469.96 L799.80,470.99 L801.80,472.03 L803.80,473.06 L805.80,474.10 L807.80,475.13 L809.80,476.16 L811.80,477.20 L813.80,478.23 L815.80,479.26 L817.80,480.29 L819.80,481.33 L821.80,482.36 L823.80,483.39 L825.80,484.42 L827.80,485.45 L829.80,486.48 L831.80,487.51 L833.80,488.54 L835.80,489.57 L837.80,490.60 L839.80,491.63 L841.80,492.65 L843.80,493.68 L845.80,494.71 L847.80,495.74 L849.80,496.76 L851.80,497.79 L853.80,498.81 L855.80,499.84 L857.80,500.86 L859.80,501.89 L861.80,502.91 L863.80,503.93 L865.80,504.96 L867.80,505.98 L869.80,507.00 L871.80,508.02 L873.80,509.04 L875.80,510.06 L877.80,511.08 L879.80,512.10 L881.80,513.12 L883.80,514.14 L885.80,515.16 L887.80,516.18 L889.80,517.19 L891.80,518.21 L893.80,519.22 L895.80,520.24 L897.80,521.25 L899.80,522.27 L901.80,523.28 L903.80,524.30 L905.80,525.31 L907.80,526.32 L909.80,527.33 L911.80,528.34 L913.80,529.35 L915.80,530.36 L917.80,531.37 L919.80,532.38 L921.80,533.39 L923.80,534.39 L925.80,535.40 L927.80,536.41 L929.80,537.41 L931.80,538.42 L933.80,539.42 L935.80,540.42 L937.80,541.43 L939.80,542.43 L941.80,543.43 L943.80,544.43 L945.80,545.43 L947.80,546.43 L949.80,547.43 L951.80,548.43 L953.80,549.42 L955.80,550.42 L957.80,551.41 L959.80,552.41 L961.80,553.40 L963.80,554.40 L965.80,555.39 L967.80,556.38 L969.80,557.37 L971.80,558.36 L973.80,559.35 L975.80,560.34 L977.80,561.33 L979.80,562.32 L981.80,563.31 L983.80,564.29 L985.80,565.28 L987.80,566.26 L989.80,567.25 L991.80,568.23 L992.50,568.57" stroke="#4DBEEE" stroke-width="4" stroke-dasharray="4 3.7" stroke-dashoffset="0.29"/>
</g>
<g fill="none" stroke="#0072BD" stroke-width="3.9"><circle cx="79.10" cy="77.24" r="4.0"/><circle cx="260.69" cy="108.73" r="4.0"/><circle cx="345.13" cy="129.46" r="4.0"/><circle cx="400.74" cy="145.04" r="4.0"/><circle cx="442.28" cy="157.61" r="4.0"/><circle cx="475.45" cy="168.20" r="4.0"/><circle cx="503.07" cy="177.38" r="4.0"/><circle cx="526.72" cy="185.49" r="4.0"/><circle cx="547.41" cy="192.77" r="4.0"/><circle cx="565.79" cy="199.38" r="4.0"/><circle cx="582.34" cy="205.44" r="4.0"/><circle cx="597.37" cy="211.04" r="4.0"/><circle cx="611.16" cy="216.25" r="4.0"/><circle cx="623.88" cy="221.12" r="4.0"/><circle cx="635.69" cy="225.69" r="4.0"/><circle cx="646.71" cy="230.00" r="4.0"/><circle cx="657.05" cy="234.08" r="4.0"/><circle cx="666.77" cy="237.95" r="4.0"/><circle cx="675.96" cy="241.64" r="4.0"/><circle cx="684.66" cy="245.16" r="4.0"/><circle cx="692.93" cy="248.52" r="4.0"/><circle cx="700.80" cy="251.75" r="4.0"/><circle cx="708.31" cy="254.85" r="4.0"/><circle cx="715.50" cy="257.83" r="4.0"/><circle cx="722.39" cy="260.70" r="4.0"/><circle cx="729.00" cy="263.47" r="4.0"/><circle cx="735.36" cy="266.15" r="4.0"/><circle cx="741.48" cy="268.74" r="4.0"/><circle cx="747.39" cy="271.25" r="4.0"/><circle cx="753.09" cy="273.68" r="4.0"/><circle cx="758.60" cy="276.04" r="4.0"/><circle cx="763.93" cy="278.33" r="4.0"/><circle cx="769.09" cy="280.56" r="4.0"/><circle cx="774.10" cy="282.73" r="4.0"/><circle cx="778.97" cy="284.84" r="4.0"/><circle cx="783.69" cy="286.90" r="4.0"/><circle cx="788.28" cy="288.91" r="4.0"/><circle cx="792.75" cy="290.86" r="4.0"/><circle cx="797.10" cy="292.78" r="4.0"/><circle cx="801.34" cy="294.64" r="4.0"/><circle cx="805.47" cy="296.47" r="4.0"/><circle cx="809.50" cy="298.26" r="4.0"/><circle cx="813.44" cy="300.01" r="4.0"/><circle cx="817.28" cy="301.72" r="4.0"/><circle cx="821.04" cy="303.39" r="4.0"/><circle cx="824.71" cy="305.04" r="4.0"/><circle cx="828.30" cy="306.65" r="4.0"/><circle cx="831.82" cy="308.23" r="4.0"/><circle cx="835.27" cy="309.78" r="4.0"/><circle cx="838.64" cy="311.30" r="4.0"/><circle cx="841.94" cy="312.79" r="4.0"/><circle cx="845.19" cy="314.26" r="4.0"/><circle cx="848.36" cy="315.70" r="4.0"/><circle cx="851.48" cy="317.12" r="4.0"/><circle cx="854.54" cy="318.51" r="4.0"/><circle cx="857.55" cy="319.88" r="4.0"/><circle cx="860.50" cy="321.23" r="4.0"/><circle cx="863.40" cy="322.55" r="4.0"/><circle cx="866.25" cy="323.86" r="4.0"/><circle cx="869.05" cy="325.14" r="4.0"/><circle cx="871.81" cy="326.41" r="4.0"/><circle cx="874.52" cy="327.66" r="4.0"/><circle cx="877.18" cy="328.88" r="4.0"/><circle cx="879.81" cy="330.10" r="4.0"/><circle cx="882.39" cy="331.29" r="4.0"/><circle cx="884.93" cy="332.47" r="4.0"/><circle cx="887.44" cy="333.63" r="4.0"/><circle cx="889.91" cy="334.77" r="4.0"/><circle cx="892.34" cy="335.90" r="4.0"/><circle cx="894.73" cy="337.01" r="4.0"/><circle cx="897.09" cy="338.11" r="4.0"/><circle cx="899.42" cy="339.20" r="4.0"/><circle cx="901.72" cy="340.27" r="4.0"/><circle cx="903.98" cy="341.33" r="4.0"/><circle cx="906.21" cy="342.37" r="4.0"/><circle cx="908.42" cy="343.40" r="4.0"/><circle cx="910.59" cy="344.42" r="4.0"/><circle cx="912.74" cy="345.43" r="4.0"/><circle cx="914.86" cy="346.42" r="4.0"/><circle cx="916.95" cy="347.41" r="4.0"/><circle cx="919.02" cy="348.38" r="4.0"/><circle cx="921.06" cy="349.34" r="4.0"/><circle cx="923.07" cy="350.29" r="4.0"/><circle cx="925.07" cy="351.23" r="4.0"/><circle cx="927.03" cy="352.16" r="4.0"/><circle cx="928.98" cy="353.08" r="4.0"/><circle cx="930.90" cy="353.99" r="4.0"/><circle cx="932.80" cy="354.89" r="4.0"/><circle cx="934.68" cy="355.78" r="4.0"/><circle cx="936.54" cy="356.66" r="4.0"/><circle cx="938.37" cy="357.53" r="4.0"/><circle cx="940.19" cy="358.40" r="4.0"/><circle cx="941.99" cy="359.25" r="4.0"/><circle cx="943.76" cy="360.10" r="4.0"/><circle cx="945.52" cy="360.93" r="4.0"/><circle cx="947.26" cy="361.76" r="4.0"/><circle cx="948.98" cy="362.58" r="4.0"/><circle cx="950.69" cy="363.40" r="4.0"/><circle cx="952.37" cy="364.20" r="4.0"/><circle cx="954.04" cy="365.00" r="4.0"/><circle cx="955.70" cy="365.79" r="4.0"/><circle cx="957.33" cy="366.58" r="4.0"/><circle cx="958.95" cy="367.35" r="4.0"/><circle cx="960.56" cy="368.12" r="4.0"/><circle cx="962.15" cy="368.89" r="4.0"/><circle cx="963.72" cy="369.64" r="4.0"/><circle cx="965.28" cy="370.39" r="4.0"/><circle cx="966.83" cy="371.13" r="4.0"/><circle cx="968.36" cy="371.87" r="4.0"/><circle cx="969.87" cy="372.60" r="4.0"/><circle cx="971.38" cy="373.32" r="4.0"/><circle cx="972.86" cy="374.04" r="4.0"/><circle cx="974.34" cy="374.75" r="4.0"/><circle cx="975.80" cy="375.46" r="4.0"/><circle cx="977.25" cy="376.16" r="4.0"/><circle cx="978.69" cy="376.85" r="4.0"/><circle cx="980.12" cy="377.54" r="4.0"/><circle cx="981.53" cy="378.22" r="4.0"/><circle cx="982.93" cy="378.90" r="4.0"/><circle cx="984.32" cy="379.58" r="4.0"/><circle cx="985.70" cy="380.24" r="4.0"/><circle cx="987.06" cy="380.90" r="4.0"/><circle cx="988.42" cy="381.56" r="4.0"/></g>
<g clip-path="url(#ax)" fill="none">
<path d="M79.80,32.24 L81.80,32.57 L83.80,32.90 L85.80,33.23 L87.80,33.57 L89.80,33.91 L91.80,34.25 L93.80,34.59 L95.80,34.94 L97.80,35.29 L99.80,35.63 L101.80,35.99 L103.80,36.34 L105.80,36.69 L107.80,37.05 L109.80,37.41 L111.80,37.77 L113.80,38.14 L115.80,38.50 L117.80,38.87 L119.80,39.24 L121.80,39.61 L123.80,39.99 L125.80,40.36 L127.80,40.74 L129.80,41.12 L131.80,41.50 L133.80,41.89 L135.80,42.28 L137.80,42.66 L139.80,43.05 L141.80,43.45 L143.80,43.84 L145.80,44.24 L147.80,44.64 L149.80,45.04 L151.80,45.44 L153.80,45.85 L155.80,46.25 L157.80,46.66 L159.80,47.07 L161.80,47.48 L163.80,47.90 L165.80,48.32 L167.80,48.74 L169.80,49.16 L171.80,49.58 L173.80,50.00 L175.80,50.43 L177.80,50.86 L179.80,51.29 L181.80,51.72 L183.80,52.16 L185.80,52.59 L187.80,53.03 L189.80,53.47 L191.80,53.92 L193.80,54.36 L195.80,54.81 L197.80,55.26 L199.80,55.71 L201.80,56.16 L203.80,56.61 L205.80,57.07 L207.80,57.53 L209.80,57.99 L211.80,58.45 L213.80,58.92 L215.80,59.38 L217.80,59.85 L219.80,60.32 L221.80,60.79 L223.80,61.27 L225.80,61.74 L227.80,62.22 L229.80,62.70 L231.80,63.18 L233.80,63.66 L235.80,64.15 L237.80,64.64 L239.80,65.13 L241.80,65.62 L243.80,66.11 L245.80,66.60 L247.80,67.10 L249.80,67.60 L251.80,68.10 L253.80,68.60 L255.80,69.11 L257.80,69.61 L259.80,70.12 L261.80,70.63 L263.80,71.14 L265.80,71.66 L267.80,72.17 L269.80,72.69 L271.80,73.21 L273.80,73.73 L275.80,74.25 L277.80,74.78 L279.80,75.30 L281.80,75.83 L283.80,76.36 L285.80,76.90 L287.80,77.43 L289.80,77.97 L291.80,78.50 L293.80,79.04 L295.80,79.58 L297.80,80.13 L299.80,80.67 L301.80,81.22 L303.80,81.77 L305.80,82.32 L307.80,82.87 L309.80,83.43 L311.80,83.98 L313.80,84.54 L315.80,85.10 L317.80,85.66 L319.80,86.22 L321.80,86.79 L323.80,87.36 L325.80,87.92 L327.80,88.49 L329.80,89.07 L331.80,89.64 L333.80,90.22 L335.80,90.79 L337.80,91.37 L339.80,91.95 L341.80,92.54 L343.80,93.12 L345.80,93.71 L347.80,94.29 L349.80,94.88 L351.80,95.48 L353.80,96.07 L355.80,96.66 L357.80,97.26 L359.80,97.86 L361.80,98.46 L363.80,99.06 L365.80,99.67 L367.80,100.27 L369.80,100.88 L371.80,101.49 L373.80,102.10 L375.80,102.71 L377.80,103.32 L379.80,103.94 L381.80,104.56 L383.80,105.18 L385.80,105.80 L387.80,106.42 L389.80,107.05 L391.80,107.67 L393.80,108.30 L395.80,108.93 L397.80,109.56 L399.80,110.19 L401.80,110.83 L403.80,111.46 L405.80,112.10 L407.80,112.74 L409.80,113.38 L411.80,114.02 L413.80,114.67 L415.80,115.31 L417.80,115.96 L419.80,116.61 L421.80,117.26 L423.80,117.92 L425.80,118.57 L427.80,119.23 L429.80,119.88 L431.80,120.54 L433.80,121.21 L435.80,121.87 L437.80,122.53 L439.80,123.20 L441.80,123.87 L443.80,124.54 L445.80,125.21 L447.80,125.88 L449.80,126.55 L451.80,127.23 L453.80,127.91 L455.80,128.58 L457.80,129.27 L459.80,129.95 L461.80,130.63 L463.80,131.32 L465.80,132.00 L467.80,132.69 L469.80,133.38 L471.80,134.07 L473.80,134.77 L475.80,135.46 L477.80,136.16 L479.80,136.86 L481.80,137.56 L483.80,138.26 L485.80,138.96 L487.80,139.67 L489.80,140.37 L491.80,141.08 L493.80,141.79 L495.80,142.50 L497.80,143.21 L499.80,143.92 L501.80,144.64 L503.80,145.36 L505.80,146.07 L507.80,146.79 L509.80,147.52 L511.80,148.24 L513.80,148.96 L515.80,149.69 L517.80,150.42 L519.80,151.15 L521.80,151.88 L523.80,152.61 L525.80,153.34 L527.80,154.08 L529.80,154.81 L531.80,155.55 L533.80,156.29 L535.80,157.03 L537.80,157.78 L539.80,158.52 L541.80,159.27 L543.80,160.01 L545.80,160.76 L547.80,161.51 L549.80,162.26 L551.80,163.02 L553.80,163.77 L555.80,164.53 L557.80,165.29 L559.80,166.04 L561.80,166.80 L563.80,167.57 L565.80,168.33 L567.80,169.09 L569.80,169.86 L571.80,170.63 L573.80,171.40 L575.80,172.17 L577.80,172.94 L579.80,173.71 L581.80,174.49 L583.80,175.27 L585.80,176.04 L587.80,176.82 L589.80,177.60 L591.80,178.39 L593.80,179.17 L595.80,179.95 L597.80,180.74 L599.80,181.53 L601.80,182.32 L603.80,183.11 L605.80,183.90 L607.80,184.69 L609.80,185.49 L611.80,186.29 L613.80,187.08 L615.80,187.88 L617.80,188.68 L619.80,189.48 L621.80,190.29 L623.80,191.09 L625.80,191.90 L627.80,192.71 L629.80,193.51 L631.80,194.33 L633.80,195.14 L635.80,195.95 L637.80,196.76 L639.80,197.58 L641.80,198.40 L643.80,199.21 L645.80,200.03 L647.80,200.86 L649.80,201.68 L651.80,202.50 L653.80,203.33 L655.80,204.15 L657.80,204.98 L659.80,205.81 L661.80,206.64 L663.80,207.47 L665.80,208.30 L667.80,209.14 L669.80,209.97 L671.80,210.81 L673.80,211.65 L675.80,212.49 L677.80,213.33 L679.80,214.17 L681.80,215.02 L683.80,215.86 L685.80,216.71 L687.80,217.55 L689.80,218.40 L691.80,219.25 L693.80,220.11 L695.80,220.96 L697.80,221.81 L699.80,222.67 L701.80,223.52 L703.80,224.38 L705.80,225.24 L707.80,226.10 L709.80,226.96 L711.80,227.82 L713.80,228.69 L715.80,229.55 L717.80,230.42 L719.80,231.29 L721.80,232.16 L723.80,233.03 L725.80,233.90 L727.80,234.77 L729.80,235.65 L731.80,236.52 L733.80,237.40 L735.80,238.28 L737.80,239.15 L739.80,240.03 L741.80,240.92 L743.80,241.80 L745.80,242.68 L747.80,243.57 L749.80,244.45 L751.80,245.34 L753.80,246.23 L755.80,247.12 L757.80,248.01 L759.80,248.90 L761.80,249.80 L763.80,250.69 L765.80,251.59 L767.80,252.48 L769.80,253.38 L771.80,254.28 L773.80,255.18 L775.80,256.08 L777.80,256.99 L779.80,257.89 L781.80,258.80 L783.80,259.70 L785.80,260.61 L787.80,261.52 L789.80,262.43 L791.80,263.34 L793.80,264.25 L795.80,265.17 L797.80,266.08 L799.80,267.00 L801.80,267.91 L803.80,268.83 L805.80,269.75 L807.80,270.67 L809.80,271.59 L811.80,272.52 L813.80,273.44 L815.80,274.36 L817.80,275.29 L819.80,276.22 L821.80,277.14 L823.80,278.07 L825.80,279.00 L827.80,279.94 L829.80,280.87 L831.80,281.80 L833.80,282.74 L835.80,283.67 L837.80,284.61 L839.80,285.55 L841.80,286.49 L843.80,287.43 L845.80,288.37 L847.80,289.31 L849.80,290.25 L851.80,291.20 L853.80,292.14 L855.80,293.09 L857.80,294.04 L859.80,294.99 L861.80,295.94 L863.80,296.89 L865.80,297.84 L867.80,298.79 L869.80,299.75 L871.80,300.70 L873.80,301.66 L875.80,302.61 L877.80,303.57 L879.80,304.53 L881.80,305.49 L883.80,306.45 L885.80,307.42 L887.80,308.38 L889.80,309.34 L891.80,310.31 L893.80,311.27 L895.80,312.24 L897.80,313.21 L899.80,314.18 L901.80,315.15 L903.80,316.12 L905.80,317.09 L907.80,318.07 L909.80,319.04 L911.80,320.02 L913.80,320.99 L915.80,321.97 L917.80,322.95 L919.80,323.93 L921.80,324.91 L923.80,325.89 L925.80,326.87 L927.80,327.86 L929.80,328.84 L931.80,329.83 L933.80,330.81 L935.80,331.80 L937.80,332.79 L939.80,333.78 L941.80,334.77 L943.80,335.76 L945.80,336.75 L947.80,337.74 L949.80,338.73 L951.80,339.73 L953.80,340.73 L955.80,341.72 L957.80,342.72 L959.80,343.72 L961.80,344.72 L963.80,345.72 L965.80,346.72 L967.80,347.72 L969.80,348.72 L971.80,349.73 L973.80,350.73 L975.80,351.74 L977.80,352.74 L979.80,353.75 L981.80,354.76 L983.80,355.77 L985.80,356.78 L987.80,357.79 L989.80,358.80 L991.80,359.82 L992.50,360.17" stroke="#D95319" stroke-width="4" stroke-dasharray="15.2 15.6" stroke-dashoffset="30.30"/>
<path d="M330.00,3.20 L332.00,4.25 L334.00,5.30 L336.00,6.35 L338.00,7.40 L340.00,8.45 L342.00,9.49 L344.00,10.54 L346.00,11.59 L348.00,12.64 L350.00,13.69 L352.00,14.74 L354.00,15.78 L356.00,16.83 L358.00,17.88 L360.00,18.93 L362.00,19.98 L364.00,21.03 L366.00,22.07 L368.00,23.12 L370.00,24.17 L372.00,25.22 L374.00,26.27 L376.00,27.32 L378.00,28.36 L380.00,29.41 L382.00,30.46 L384.00,31.51 L386.00,32.56 L388.00,33.61 L390.00,34.65 L392.00,35.70 L394.00,36.75 L396.00,37.80 L398.00,38.85 L400.00,39.90 L402.00,40.94 L404.00,41.99 L406.00,43.04 L408.00,44.09 L410.00,45.14 L412.00,46.19 L414.00,47.23 L416.00,48.28 L418.00,49.33 L420.00,50.38 L422.00,51.43 L424.00,52.48 L426.00,53.52 L428.00,54.57 L430.00,55.62 L432.00,56.67 L434.00,57.72 L436.00,58.77 L438.00,59.81 L440.00,60.86 L442.00,61.91 L444.00,62.96 L446.00,64.01 L448.00,65.06 L450.00,66.10 L452.00,67.15 L454.00,68.20 L456.00,69.25 L458.00,70.30 L460.00,71.35 L462.00,72.39 L464.00,73.44 L466.00,74.49 L468.00,75.54 L470.00,76.59 L472.00,77.64 L474.00,78.68 L476.00,79.73 L478.00,80.78 L480.00,81.83 L482.00,82.88 L484.00,83.93 L486.00,84.97 L488.00,86.02 L490.00,87.07 L492.00,88.12 L494.00,89.17 L496.00,90.22 L498.00,91.26 L500.00,92.31 L502.00,93.36 L504.00,94.41 L506.00,95.46 L508.00,96.51 L510.00,97.55 L512.00,98.60 L514.00,99.65 L516.00,100.70 L518.00,101.75 L520.00,102.80 L522.00,103.84 L524.00,104.89 L526.00,105.94 L528.00,106.99 L530.00,108.04 L532.00,109.09 L534.00,110.13 L536.00,111.18 L538.00,112.23 L540.00,113.28 L542.00,114.33 L544.00,115.38 L546.00,116.42 L548.00,117.47 L550.00,118.52 L552.00,119.57 L554.00,120.62 L556.00,121.67 L558.00,122.71 L560.00,123.76 L562.00,124.81 L564.00,125.86 L566.00,126.91 L568.00,127.96 L570.00,129.00 L572.00,130.05 L574.00,131.10 L576.00,132.15 L578.00,133.20 L580.00,134.25 L582.00,135.29 L584.00,136.34 L586.00,137.39 L588.00,138.44 L590.00,139.49 L592.00,140.54 L594.00,141.58 L596.00,142.63 L598.00,143.68 L600.00,144.73 L602.00,145.78 L604.00,146.83 L606.00,147.87 L608.00,148.92 L610.00,149.97 L612.00,151.02 L614.00,152.07 L616.00,153.12 L618.00,154.17 L620.00,155.21 L622.00,156.26 L624.00,157.31 L626.00,158.36 L628.00,159.41 L630.00,160.46 L632.00,161.50 L634.00,162.55 L636.00,163.60 L638.00,164.65 L640.00,165.70 L642.00,166.75 L644.00,167.79 L646.00,168.84 L648.00,169.89 L650.00,170.94 L652.00,171.99 L654.00,173.04 L656.00,174.08 L658.00,175.13 L660.00,176.18 L662.00,177.23 L664.00,178.28 L666.00,179.33 L668.00,180.37 L670.00,181.42 L672.00,182.47 L674.00,183.52 L676.00,184.57 L678.00,185.62 L680.00,186.66 L682.00,187.71 L684.00,188.76 L686.00,189.81 L688.00,190.86 L690.00,191.91 L692.00,192.95 L694.00,194.00 L696.00,195.05 L698.00,196.10 L700.00,197.15 L702.00,198.20 L704.00,199.24 L706.00,200.29 L708.00,201.34 L710.00,202.39 L712.00,203.44 L714.00,204.49 L716.00,205.53 L718.00,206.58 L720.00,207.63 L722.00,208.68 L724.00,209.73 L726.00,210.78 L728.00,211.82 L730.00,212.87 L732.00,213.92 L734.00,214.97 L736.00,216.02 L738.00,217.07 L740.00,218.11 L742.00,219.16 L744.00,220.21 L746.00,221.26 L748.00,222.31 L750.00,223.36 L752.00,224.40 L754.00,225.45 L756.00,226.50 L758.00,227.55 L760.00,228.60 L762.00,229.65 L764.00,230.69 L766.00,231.74 L768.00,232.79 L770.00,233.84 L772.00,234.89 L774.00,235.94 L776.00,236.98 L778.00,238.03 L780.00,239.08 L782.00,240.13 L784.00,241.18 L786.00,242.23 L788.00,243.27 L790.00,244.32 L792.00,245.37 L794.00,246.42 L796.00,247.47 L798.00,248.52 L800.00,249.56 L802.00,250.61 L804.00,251.66 L806.00,252.71 L808.00,253.76 L810.00,254.81 L812.00,255.85 L814.00,256.90 L816.00,257.95 L818.00,259.00 L820.00,260.05 L822.00,261.10 L824.00,262.14 L826.00,263.19 L828.00,264.24 L830.00,265.29 L832.00,266.34 L834.00,267.39 L836.00,268.43 L838.00,269.48 L840.00,270.53 L842.00,271.58 L844.00,272.63 L846.00,273.68 L848.00,274.72 L850.00,275.77 L852.00,276.82 L854.00,277.87 L856.00,278.92 L858.00,279.97 L860.00,281.01 L862.00,282.06 L864.00,283.11 L866.00,284.16 L868.00,285.21 L870.00,286.26 L872.00,287.30 L874.00,288.35 L876.00,289.40 L878.00,290.45 L880.00,291.50 L882.00,292.55 L884.00,293.59 L886.00,294.64 L888.00,295.69 L890.00,296.74 L892.00,297.79 L894.00,298.84 L896.00,299.88 L898.00,300.93 L900.00,301.98 L902.00,303.03 L904.00,304.08 L906.00,305.13 L908.00,306.18 L910.00,307.22 L912.00,308.27 L914.00,309.32 L916.00,310.37 L918.00,311.42 L920.00,312.47 L922.00,313.51 L924.00,314.56 L926.00,315.61 L928.00,316.66 L930.00,317.71 L932.00,318.76 L934.00,319.80 L936.00,320.85 L938.00,321.90 L940.00,322.95 L942.00,324.00 L944.00,325.05 L946.00,326.09 L948.00,327.14 L950.00,328.19 L952.00,329.24 L954.00,330.29 L956.00,331.34 L958.00,332.38 L960.00,333.43 L962.00,334.48 L964.00,335.53 L966.00,336.58 L968.00,337.63 L970.00,338.67 L972.00,339.72 L974.00,340.77 L976.00,341.82 L978.00,342.87 L980.00,343.92 L982.00,344.96 L984.00,346.01 L986.00,347.06 L988.00,348.11 L990.00,349.16 L992.00,350.21 L992.50,350.47" stroke="#EDB120" stroke-width="4" stroke-dasharray="4 3.7" stroke-dashoffset="4.22"/>
</g>
<g fill="none" stroke="#7E2F8E" stroke-width="4"><rect x="75.90" y="128.30" width="7.8" height="7.8"/><rect x="257.49" y="159.21" width="7.8" height="7.8"/><rect x="341.93" y="175.90" width="7.8" height="7.8"/><rect x="397.54" y="187.57" width="7.8" height="7.8"/><rect x="439.08" y="196.59" width="7.8" height="7.8"/><rect x="472.25" y="203.97" width="7.8" height="7.8"/><rect x="499.87" y="210.21" width="7.8" height="7.8"/><rect x="523.52" y="215.64" width="7.8" height="7.8"/><rect x="544.21" y="220.43" width="7.8" height="7.8"/><rect x="562.59" y="224.73" width="7.8" height="7.8"/><rect x="579.14" y="228.62" width="7.8" height="7.8"/><rect x="594.17" y="232.18" width="7.8" height="7.8"/><rect x="607.96" y="235.47" width="7.8" height="7.8"/><rect x="620.68" y="238.51" width="7.8" height="7.8"/><rect x="632.49" y="241.35" width="7.8" height="7.8"/><rect x="643.51" y="244.01" width="7.8" height="7.8"/><rect x="653.85" y="246.50" width="7.8" height="7.8"/><rect x="663.57" y="248.86" width="7.8" height="7.8"/><rect x="672.76" y="251.10" width="7.8" height="7.8"/><rect x="681.46" y="253.22" width="7.8" height="7.8"/><rect x="689.73" y="255.24" width="7.8" height="7.8"/><rect x="697.60" y="257.16" width="7.8" height="7.8"/><rect x="705.11" y="259.00" width="7.8" height="7.8"/><rect x="712.30" y="260.77" width="7.8" height="7.8"/><rect x="719.19" y="262.46" width="7.8" height="7.8"/><rect x="725.80" y="264.09" width="7.8" height="7.8"/><rect x="732.16" y="265.65" width="7.8" height="7.8"/><rect x="738.28" y="267.16" width="7.8" height="7.8"/><rect x="744.19" y="268.62" width="7.8" height="7.8"/><rect x="749.89" y="270.03" width="7.8" height="7.8"/><rect x="755.40" y="271.39" width="7.8" height="7.8"/><rect x="760.73" y="272.71" width="7.8" height="7.8"/><rect x="765.89" y="273.99" width="7.8" height="7.8"/><rect x="770.90" y="275.23" width="7.8" height="7.8"/><rect x="775.77" y="276.44" width="7.8" height="7.8"/><rect x="780.49" y="277.61" width="7.8" height="7.8"/><rect x="785.08" y="278.75" width="7.8" height="7.8"/><rect x="789.55" y="279.86" width="7.8" height="7.8"/><rect x="793.90" y="280.94" width="7.8" height="7.8"/><rect x="798.14" y="281.99" width="7.8" height="7.8"/><rect x="802.27" y="283.02" width="7.8" height="7.8"/><rect x="806.30" y="284.02" width="7.8" height="7.8"/><rect x="810.24" y="285.00" width="7.8" height="7.8"/><rect x="814.08" y="285.96" width="7.8" height="7.8"/><rect x="817.84" y="286.90" width="7.8" height="7.8"/><rect x="821.51" y="287.81" width="7.8" height="7.8"/><rect x="825.10" y="288.71" width="7.8" height="7.8"/><rect x="828.62" y="289.58" width="7.8" height="7.8"/><rect x="832.07" y="290.44" width="7.8" height="7.8"/><rect x="835.44" y="291.28" width="7.8" height="7.8"/><rect x="838.74" y="292.10" width="7.8" height="7.8"/><rect x="841.99" y="292.91" width="7.8" height="7.8"/><rect x="845.16" y="293.70" width="7.8" height="7.8"/><rect x="848.28" y="294.48" width="7.8" height="7.8"/><rect x="851.34" y="295.24" width="7.8" height="7.8"/><rect x="854.35" y="295.99" width="7.8" height="7.8"/><rect x="857.30" y="296.73" width="7.8" height="7.8"/><rect x="860.20" y="297.45" width="7.8" height="7.8"/><rect x="863.05" y="298.16" width="7.8" height="7.8"/><rect x="865.85" y="298.86" width="7.8" height="7.8"/><rect x="868.61" y="299.55" width="7.8" height="7.8"/><rect x="871.32" y="300.22" width="7.8" height="7.8"/><rect x="873.98" y="300.89" width="7.8" height="7.8"/><rect x="876.61" y="301.54" width="7.8" height="7.8"/><rect x="879.19" y="302.18" width="7.8" height="7.8"/><rect x="881.73" y="302.82" width="7.8" height="7.8"/><rect x="884.24" y="303.44" width="7.8" height="7.8"/><rect x="886.71" y="304.06" width="7.8" height="7.8"/><rect x="889.14" y="304.66" width="7.8" height="7.8"/><rect x="891.53" y="305.26" width="7.8" height="7.8"/><rect x="893.89" y="305.85" width="7.8" height="7.8"/><rect x="896.22" y="306.43" width="7.8" height="7.8"/><rect x="898.52" y="307.00" width="7.8" height="7.8"/><rect x="900.78" y="307.56" width="7.8" height="7.8"/><rect x="903.01" y="308.12" width="7.8" height="7.8"/><rect x="905.22" y="308.67" width="7.8" height="7.8"/><rect x="907.39" y="309.21" width="7.8" height="7.8"/><rect x="909.54" y="309.75" width="7.8" height="7.8"/><rect x="911.66" y="310.27" width="7.8" height="7.8"/><rect x="913.75" y="310.79" width="7.8" height="7.8"/><rect x="915.82" y="311.31" width="7.8" height="7.8"/><rect x="917.86" y="311.82" width="7.8" height="7.8"/><rect x="919.87" y="312.32" width="7.8" height="7.8"/><rect x="921.87" y="312.81" width="7.8" height="7.8"/><rect x="923.83" y="313.30" width="7.8" height="7.8"/><rect x="925.78" y="313.79" width="7.8" height="7.8"/><rect x="927.70" y="314.26" width="7.8" height="7.8"/><rect x="929.60" y="314.74" width="7.8" height="7.8"/><rect x="931.48" y="315.20" width="7.8" height="7.8"/><rect x="933.34" y="315.66" width="7.8" height="7.8"/><rect x="935.17" y="316.12" width="7.8" height="7.8"/><rect x="936.99" y="316.57" width="7.8" height="7.8"/><rect x="938.79" y="317.02" width="7.8" height="7.8"/><rect x="940.56" y="317.46" width="7.8" height="7.8"/><rect x="942.32" y="317.90" width="7.8" height="7.8"/><rect x="944.06" y="318.33" width="7.8" height="7.8"/><rect x="945.78" y="318.76" width="7.8" height="7.8"/><rect x="947.49" y="319.18" width="7.8" height="7.8"/><rect x="949.17" y="319.60" width="7.8" height="7.8"/><rect x="950.84" y="320.01" width="7.8" height="7.8"/><rect x="952.50" y="320.42" width="7.8" height="7.8"/><rect x="954.13" y="320.83" width="7.8" height="7.8"/><rect x="955.75" y="321.23" width="7.8" height="7.8"/><rect x="957.36" y="321.63" width="7.8" height="7.8"/><rect x="958.95" y="322.02" width="7.8" height="7.8"/><rect x="960.52" y="322.41" width="7.8" height="7.8"/><rect x="962.08" y="322.80" width="7.8" height="7.8"/><rect x="963.63" y="323.18" width="7.8" height="7.8"/><rect x="965.16" y="323.56" width="7.8" height="7.8"/><rect x="966.67" y="323.93" width="7.8" height="7.8"/><rect x="968.18" y="324.31" width="7.8" height="7.8"/><rect x="969.66" y="324.67" width="7.8" height="7.8"/><rect x="971.14" y="325.04" width="7.8" height="7.8"/><rect x="972.60" y="325.40" width="7.8" height="7.8"/><rect x="974.05" y="325.76" width="7.8" height="7.8"/><rect x="975.49" y="326.11" width="7.8" height="7.8"/><rect x="976.92" y="326.47" width="7.8" height="7.8"/><rect x="978.33" y="326.82" width="7.8" height="7.8"/><rect x="979.73" y="327.16" width="7.8" height="7.8"/><rect x="981.12" y="327.51" width="7.8" height="7.8"/><rect x="982.50" y="327.85" width="7.8" height="7.8"/><rect x="983.86" y="328.18" width="7.8" height="7.8"/><rect x="985.22" y="328.52" width="7.8" height="7.8"/></g>
<g clip-path="url(#ax)" fill="none">
<path d="M79.80,133.08 L81.80,133.37 L83.80,133.66 L85.80,133.95 L87.80,134.24 L89.80,134.54 L91.80,134.83 L93.80,135.13 L95.80,135.42 L97.80,135.72 L99.80,136.02 L101.80,136.32 L103.80,136.62 L105.80,136.92 L107.80,137.23 L109.80,137.53 L111.80,137.84 L113.80,138.14 L115.80,138.45 L117.80,138.76 L119.80,139.07 L121.80,139.38 L123.80,139.69 L125.80,140.00 L127.80,140.32 L129.80,140.63 L131.80,140.95 L133.80,141.26 L135.80,141.58 L137.80,141.90 L139.80,142.22 L141.80,142.54 L143.80,142.86 L145.80,143.18 L147.80,143.51 L149.80,143.83 L151.80,144.16 L153.80,144.48 L155.80,144.81 L157.80,145.14 L159.80,145.47 L161.80,145.80 L163.80,146.13 L165.80,146.46 L167.80,146.80 L169.80,147.13 L171.80,147.47 L173.80,147.80 L175.80,148.14 L177.80,148.48 L179.80,148.82 L181.80,149.16 L183.80,149.50 L185.80,149.84 L187.80,150.18 L189.80,150.52 L191.80,150.87 L193.80,151.21 L195.80,151.56 L197.80,151.91 L199.80,152.25 L201.80,152.60 L203.80,152.95 L205.80,153.30 L207.80,153.66 L209.80,154.01 L211.80,154.36 L213.80,154.72 L215.80,155.07 L217.80,155.43 L219.80,155.78 L221.80,156.14 L223.80,156.50 L225.80,156.86 L227.80,157.22 L229.80,157.58 L231.80,157.95 L233.80,158.31 L235.80,158.67 L237.80,159.04 L239.80,159.40 L241.80,159.77 L243.80,160.14 L245.80,160.51 L247.80,160.87 L249.80,161.24 L251.80,161.61 L253.80,161.99 L255.80,162.36 L257.80,162.73 L259.80,163.11 L261.80,163.48 L263.80,163.86 L265.80,164.23 L267.80,164.61 L269.80,164.99 L271.80,165.37 L273.80,165.75 L275.80,166.13 L277.80,166.51 L279.80,166.89 L281.80,167.28 L283.80,167.66 L285.80,168.04 L287.80,168.43 L289.80,168.82 L291.80,169.20 L293.80,169.59 L295.80,169.98 L297.80,170.37 L299.80,170.76 L301.80,171.15 L303.80,171.54 L305.80,171.93 L307.80,172.33 L309.80,172.72 L311.80,173.11 L313.80,173.51 L315.80,173.91 L317.80,174.30 L319.80,174.70 L321.80,175.10 L323.80,175.50 L325.80,175.90 L327.80,176.30 L329.80,176.70 L331.80,177.10 L333.80,177.51 L335.80,177.91 L337.80,178.31 L339.80,178.72 L341.80,179.12 L343.80,179.53 L345.80,179.94 L347.80,180.35 L349.80,180.75 L351.80,181.16 L353.80,181.57 L355.80,181.98 L357.80,182.39 L359.80,182.81 L361.80,183.22 L363.80,183.63 L365.80,184.05 L367.80,184.46 L369.80,184.88 L371.80,185.29 L373.80,185.71 L375.80,186.13 L377.80,186.55 L379.80,186.96 L381.80,187.38 L383.80,187.80 L385.80,188.22 L387.80,188.65 L389.80,189.07 L391.80,189.49 L393.80,189.91 L395.80,190.34 L397.80,190.76 L399.80,191.19 L401.80,191.61 L403.80,192.04 L405.80,192.47 L407.80,192.90 L409.80,193.32 L411.80,193.75 L413.80,194.18 L415.80,194.61 L417.80,195.04 L419.80,195.48 L421.80,195.91 L423.80,196.34 L425.80,196.77 L427.80,197.21 L429.80,197.64 L431.80,198.08 L433.80,198.51 L435.80,198.95 L437.80,199.39 L439.80,199.82 L441.80,200.26 L443.80,200.70 L445.80,201.14 L447.80,201.58 L449.80,202.02 L451.80,202.46 L453.80,202.90 L455.80,203.34 L457.80,203.79 L459.80,204.23 L461.80,204.67 L463.80,205.12 L465.80,205.56 L467.80,206.01 L469.80,206.45 L471.80,206.90 L473.80,207.35 L475.80,207.79 L477.80,208.24 L479.80,208.69 L481.80,209.14 L483.80,209.59 L485.80,210.04 L487.80,210.49 L489.80,210.94 L491.80,211.39 L493.80,211.84 L495.80,212.30 L497.80,212.75 L499.80,213.20 L501.80,213.66 L503.80,214.11 L505.80,214.57 L507.80,215.02 L509.80,215.48 L511.80,215.93 L513.80,216.39 L515.80,216.85 L517.80,217.31 L519.80,217.77 L521.80,218.22 L523.80,218.68 L525.80,219.14 L527.80,219.60 L529.80,220.07 L531.80,220.53 L533.80,220.99 L535.80,221.45 L537.80,221.91 L539.80,222.38 L541.80,222.84 L543.80,223.30 L545.80,223.77 L547.80,224.23 L549.80,224.70 L551.80,225.16 L553.80,225.63 L555.80,226.10 L557.80,226.56 L559.80,227.03 L561.80,227.50 L563.80,227.97 L565.80,228.43 L567.80,228.90 L569.80,229.37 L571.80,229.84 L573.80,230.31 L575.80,230.78 L577.80,231.25 L579.80,231.73 L581.80,232.20 L583.80,232.67 L585.80,233.14 L587.80,233.61 L589.80,234.09 L591.80,234.56 L593.80,235.04 L595.80,235.51 L597.80,235.98 L599.80,236.46 L601.80,236.94 L603.80,237.41 L605.80,237.89 L607.80,238.36 L609.80,238.84 L611.80,239.32 L613.80,239.80 L615.80,240.27 L617.80,240.75 L619.80,241.23 L621.80,241.71 L623.80,242.19 L625.80,242.67 L627.80,243.15 L629.80,243.63 L631.80,244.11 L633.80,244.59 L635.80,245.07 L637.80,245.55 L639.80,246.03 L641.80,246.52 L643.80,247.00 L645.80,247.48 L647.80,247.96 L649.80,248.45 L651.80,248.93 L653.80,249.41 L655.80,249.90 L657.80,250.38 L659.80,250.87 L661.80,251.35 L663.80,251.84 L665.80,252.32 L667.80,252.81 L669.80,253.30 L671.80,253.78 L673.80,254.27 L675.80,254.76 L677.80,255.24 L679.80,255.73 L681.80,256.22 L683.80,256.70 L685.80,257.19 L687.80,257.68 L689.80,258.17 L691.80,258.66 L693.80,259.15 L695.80,259.64 L697.80,260.13 L699.80,260.62 L701.80,261.11 L703.80,261.60 L705.80,262.09 L707.80,262.58 L709.80,263.07 L711.80,263.56 L713.80,264.05 L715.80,264.54 L717.80,265.03 L719.80,265.53 L721.80,266.02 L723.80,266.51 L725.80,267.00 L727.80,267.49 L729.80,267.99 L731.80,268.48 L733.80,268.97 L735.80,269.47 L737.80,269.96 L739.80,270.45 L741.80,270.95 L743.80,271.44 L745.80,271.94 L747.80,272.43 L749.80,272.93 L751.80,273.42 L753.80,273.91 L755.80,274.41 L757.80,274.90 L759.80,275.40 L761.80,275.90 L763.80,276.39 L765.80,276.89 L767.80,277.38 L769.80,277.88 L771.80,278.37 L773.80,278.87 L775.80,279.37 L777.80,279.86 L779.80,280.36 L781.80,280.86 L783.80,281.35 L785.80,281.85 L787.80,282.35 L789.80,282.84 L791.80,283.34 L793.80,283.84 L795.80,284.34 L797.80,284.83 L799.80,285.33 L801.80,285.83 L803.80,286.33 L805.80,286.82 L807.80,287.32 L809.80,287.82 L811.80,288.32 L813.80,288.82 L815.80,289.31 L817.80,289.81 L819.80,290.31 L821.80,290.81 L823.80,291.31 L825.80,291.81 L827.80,292.30 L829.80,292.80 L831.80,293.30 L833.80,293.80 L835.80,294.30 L837.80,294.80 L839.80,295.30 L841.80,295.79 L843.80,296.29 L845.80,296.79 L847.80,297.29 L849.80,297.79 L851.80,298.29 L853.80,298.79 L855.80,299.29 L857.80,299.79 L859.80,300.28 L861.80,300.78 L863.80,301.28 L865.80,301.78 L867.80,302.28 L869.80,302.78 L871.80,303.28 L873.80,303.78 L875.80,304.28 L877.80,304.77 L879.80,305.27 L881.80,305.77 L883.80,306.27 L885.80,306.77 L887.80,307.27 L889.80,307.77 L891.80,308.27 L893.80,308.76 L895.80,309.26 L897.80,309.76 L899.80,310.26 L901.80,310.76 L903.80,311.26 L905.80,311.76 L907.80,312.25 L909.80,312.75 L911.80,313.25 L913.80,313.75 L915.80,314.25 L917.80,314.74 L919.80,315.24 L921.80,315.74 L923.80,316.24 L925.80,316.73 L927.80,317.23 L929.80,317.73 L931.80,318.23 L933.80,318.72 L935.80,319.22 L937.80,319.72 L939.80,320.22 L941.80,320.71 L943.80,321.21 L945.80,321.71 L947.80,322.20 L949.80,322.70 L951.80,323.19 L953.80,323.69 L955.80,324.19 L957.80,324.68 L959.80,325.18 L961.80,325.67 L963.80,326.17 L965.80,326.66 L967.80,327.16 L969.80,327.66 L971.80,328.15 L973.80,328.64 L975.80,329.14 L977.80,329.63 L979.80,330.13 L981.80,330.62 L983.80,331.12 L985.80,331.61 L987.80,332.10 L989.80,332.60 L991.80,333.09 L992.50,333.26" stroke="#77AC30" stroke-width="3" stroke-dasharray="19.6 11.2" stroke-dashoffset="0.01"/>
<path d="M79.80,92.40 L81.80,92.93 L83.80,93.45 L85.80,93.97 L87.80,94.50 L89.80,95.02 L91.80,95.55 L93.80,96.07 L95.80,96.60 L97.80,97.12 L99.80,97.65 L101.80,98.17 L103.80,98.70 L105.80,99.22 L107.80,99.75 L109.80,100.27 L111.80,100.80 L113.80,101.32 L115.80,101.85 L117.80,102.37 L119.80,102.89 L121.80,103.42 L123.80,103.94 L125.80,104.47 L127.80,104.99 L129.80,105.52 L131.80,106.04 L133.80,106.57 L135.80,107.09 L137.80,107.62 L139.80,108.14 L141.80,108.67 L143.80,109.19 L145.80,109.72 L147.80,110.24 L149.80,110.77 L151.80,111.29 L153.80,111.82 L155.80,112.35 L157.80,112.87 L159.80,113.40 L161.80,113.92 L163.80,114.45 L165.80,114.97 L167.80,115.50 L169.80,116.02 L171.80,116.55 L173.80,117.07 L175.80,117.60 L177.80,118.12 L179.80,118.65 L181.80,119.17 L183.80,119.70 L185.80,120.22 L187.80,120.75 L189.80,121.27 L191.80,121.80 L193.80,122.33 L195.80,122.85 L197.80,123.38 L199.80,123.90 L201.80,124.43 L203.80,124.95 L205.80,125.48 L207.80,126.00 L209.80,126.53 L211.80,127.05 L213.80,127.58 L215.80,128.11 L217.80,128.63 L219.80,129.16 L221.80,129.68 L223.80,130.21 L225.80,130.73 L227.80,131.26 L229.80,131.79 L231.80,132.31 L233.80,132.84 L235.80,133.36 L237.80,133.89 L239.80,134.41 L241.80,134.94 L243.80,135.46 L245.80,135.99 L247.80,136.52 L249.80,137.04 L251.80,137.57 L253.80,138.09 L255.80,138.62 L257.80,139.14 L259.80,139.67 L261.80,140.20 L263.80,140.72 L265.80,141.25 L267.80,141.77 L269.80,142.30 L271.80,142.83 L273.80,143.35 L275.80,143.88 L277.80,144.40 L279.80,144.93 L281.80,145.45 L283.80,145.98 L285.80,146.51 L287.80,147.03 L289.80,147.56 L291.80,148.08 L293.80,148.61 L295.80,149.14 L297.80,149.66 L299.80,150.19 L301.80,150.71 L303.80,151.24 L305.80,151.77 L307.80,152.29 L309.80,152.82 L311.80,153.34 L313.80,153.87 L315.80,154.40 L317.80,154.92 L319.80,155.45 L321.80,155.97 L323.80,156.50 L325.80,157.03 L327.80,157.55 L329.80,158.08 L331.80,158.60 L333.80,159.13 L335.80,159.66 L337.80,160.18 L339.80,160.71 L341.80,161.23 L343.80,161.76 L345.80,162.29 L347.80,162.81 L349.80,163.34 L351.80,163.86 L353.80,164.39 L355.80,164.92 L357.80,165.44 L359.80,165.97 L361.80,166.49 L363.80,167.02 L365.80,167.55 L367.80,168.07 L369.80,168.60 L371.80,169.12 L373.80,169.65 L375.80,170.18 L377.80,170.70 L379.80,171.23 L381.80,171.75 L383.80,172.28 L385.80,172.81 L387.80,173.33 L389.80,173.86 L391.80,174.38 L393.80,174.91 L395.80,175.44 L397.80,175.96 L399.80,176.49 L401.80,177.01 L403.80,177.54 L405.80,178.07 L407.80,178.59 L409.80,179.12 L411.80,179.65 L413.80,180.17 L415.80,180.70 L417.80,181.22 L419.80,181.75 L421.80,182.28 L423.80,182.80 L425.80,183.33 L427.80,183.85 L429.80,184.38 L431.80,184.91 L433.80,185.43 L435.80,185.96 L437.80,186.48 L439.80,187.01 L441.80,187.54 L443.80,188.06 L445.80,188.59 L447.80,189.11 L449.80,189.64 L451.80,190.17 L453.80,190.69 L455.80,191.22 L457.80,191.74 L459.80,192.27 L461.80,192.80 L463.80,193.32 L465.80,193.85 L467.80,194.37 L469.80,194.90 L471.80,195.43 L473.80,195.95 L475.80,196.48 L477.80,197.00 L479.80,197.53 L481.80,198.06 L483.80,198.58 L485.80,199.11 L487.80,199.63 L489.80,200.16 L491.80,200.69 L493.80,201.21 L495.80,201.74 L497.80,202.26 L499.80,202.79 L501.80,203.32 L503.80,203.84 L505.80,204.37 L507.80,204.89 L509.80,205.42 L511.80,205.94 L513.80,206.47 L515.80,207.00 L517.80,207.52 L519.80,208.05 L521.80,208.57 L523.80,209.10 L525.80,209.63 L527.80,210.15 L529.80,210.68 L531.80,211.20 L533.80,211.73 L535.80,212.25 L537.80,212.78 L539.80,213.31 L541.80,213.83 L543.80,214.36 L545.80,214.88 L547.80,215.41 L549.80,215.93 L551.80,216.46 L553.80,216.99 L555.80,217.51 L557.80,218.04 L559.80,218.56 L561.80,219.09 L563.80,219.61 L565.80,220.14 L567.80,220.66 L569.80,221.19 L571.80,221.72 L573.80,222.24 L575.80,222.77 L577.80,223.29 L579.80,223.82 L581.80,224.34 L583.80,224.87 L585.80,225.39 L587.80,225.92 L589.80,226.45 L591.80,226.97 L593.80,227.50 L595.80,228.02 L597.80,228.55 L599.80,229.07 L601.80,229.60 L603.80,230.12 L605.80,230.65 L607.80,231.17 L609.80,231.70 L611.80,232.22 L613.80,232.75 L615.80,233.28 L617.80,233.80 L619.80,234.33 L621.80,234.85 L623.80,235.38 L625.80,235.90 L627.80,236.43 L629.80,236.95 L631.80,237.48 L633.80,238.00 L635.80,238.53 L637.80,239.05 L639.80,239.58 L641.80,240.10 L643.80,240.63 L645.80,241.15 L647.80,241.68 L649.80,242.20 L651.80,242.73 L653.80,243.25 L655.80,243.78 L657.80,244.30 L659.80,244.83 L661.80,245.35 L663.80,245.88 L665.80,246.40 L667.80,246.93 L669.80,247.45 L671.80,247.98 L673.80,248.50 L675.80,249.03 L677.80,249.55 L679.80,250.08 L681.80,250.60 L683.80,251.13 L685.80,251.65 L687.80,252.18 L689.80,252.70 L691.80,253.22 L693.80,253.75 L695.80,254.27 L697.80,254.80 L699.80,255.32 L701.80,255.85 L703.80,256.37 L705.80,256.90 L707.80,257.42 L709.80,257.95 L711.80,258.47 L713.80,258.99 L715.80,259.52 L717.80,260.04 L719.80,260.57 L721.80,261.09 L723.80,261.62 L725.80,262.14 L727.80,262.67 L729.80,263.19 L731.80,263.71 L733.80,264.24 L735.80,264.76 L737.80,265.29 L739.80,265.81 L741.80,266.33 L743.80,266.86 L745.80,267.38 L747.80,267.91 L749.80,268.43 L751.80,268.95 L753.80,269.48 L755.80,270.00 L757.80,270.53 L759.80,271.05 L761.80,271.57 L763.80,272.10 L765.80,272.62 L767.80,273.15 L769.80,273.67 L771.80,274.19 L773.80,274.72 L775.80,275.24 L777.80,275.77 L779.80,276.29 L781.80,276.81 L783.80,277.34 L785.80,277.86 L787.80,278.38 L789.80,278.91 L791.80,279.43 L793.80,279.95 L795.80,280.48 L797.80,281.00 L799.80,281.52 L801.80,282.05 L803.80,282.57 L805.80,283.09 L807.80,283.62 L809.80,284.14 L811.80,284.66 L813.80,285.19 L815.80,285.71 L817.80,286.23 L819.80,286.76 L821.80,287.28 L823.80,287.80 L825.80,288.33 L827.80,288.85 L829.80,289.37 L831.80,289.90 L833.80,290.42 L835.80,290.94 L837.80,291.46 L839.80,291.99 L841.80,292.51 L843.80,293.03 L845.80,293.56 L847.80,294.08 L849.80,294.60 L851.80,295.12 L853.80,295.65 L855.80,296.17 L857.80,296.69 L859.80,297.22 L861.80,297.74 L863.80,298.26 L865.80,298.78 L867.80,299.31 L869.80,299.83 L871.80,300.35 L873.80,300.87 L875.80,301.39 L877.80,301.92 L879.80,302.44 L881.80,302.96 L883.80,303.48 L885.80,304.01 L887.80,304.53 L889.80,305.05 L891.80,305.57 L893.80,306.09 L895.80,306.62 L897.80,307.14 L899.80,307.66 L901.80,308.18 L903.80,308.70 L905.80,309.23 L907.80,309.75 L909.80,310.27 L911.80,310.79 L913.80,311.31 L915.80,311.84 L917.80,312.36 L919.80,312.88 L921.80,313.40 L923.80,313.92 L925.80,314.44 L927.80,314.97 L929.80,315.49 L931.80,316.01 L933.80,316.53 L935.80,317.05 L937.80,317.57 L939.80,318.09 L941.80,318.61 L943.80,319.14 L945.80,319.66 L947.80,320.18 L949.80,320.70 L951.80,321.22 L953.80,321.74 L955.80,322.26 L957.80,322.78 L959.80,323.30 L961.80,323.83 L963.80,324.35 L965.80,324.87 L967.80,325.39 L969.80,325.91 L971.80,326.43 L973.80,326.95 L975.80,327.47 L977.80,327.99 L979.80,328.51 L981.80,329.03 L983.80,329.55 L985.80,330.07 L987.80,330.59 L989.80,331.11 L991.80,331.64 L992.50,331.82" stroke="#4DBEEE" stroke-width="3.3" stroke-dasharray="2.5 5.2" stroke-dashoffset="7.41"/>
</g>
<g stroke="#262626" stroke-width="1"><path d="M80.0,11.5 L992.5,11.5 L992.5,809.5 L80.0,809.5" fill="none" stroke="#262626" stroke-width="1"/><line x1="80.0" y1="11.0" x2="80.0" y2="810.0" stroke="#262626" stroke-width="1.25"/><line x1="79.50" y1="809.5" x2="79.50" y2="799.5"/><line x1="79.50" y1="11.5" x2="79.50" y2="21.5"/><line x1="194.50" y1="809.5" x2="194.50" y2="804.5"/><line x1="194.50" y1="11.5" x2="194.50" y2="16.5"/><line x1="261.50" y1="809.5" x2="261.50" y2="804.5"/><line x1="261.50" y1="11.5" x2="261.50" y2="16.5"/><line x1="308.50" y1="809.5" x2="308.50" y2="804.5"/><line x1="308.50" y1="11.5" x2="308.50" y2="16.5"/><line x1="345.50" y1="809.5" x2="345.50" y2="804.5"/><line x1="345.50" y1="11.5" x2="345.50" y2="16.5"/><line x1="375.50" y1="809.5" x2="375.50" y2="804.5"/><line x1="375.50" y1="11.5" x2="375.50" y2="16.5"/><line x1="401.50" y1="809.5" x2="401.50" y2="804.5"/><line x1="401.50" y1="11.5" x2="401.50" y2="16.5"/><line x1="423.50" y1="809.5" x2="423.50" y2="804.5"/><line x1="423.50" y1="11.5" x2="423.50" y2="16.5"/><line x1="442.50" y1="809.5" x2="442.50" y2="804.5"/><line x1="442.50" y1="11.5" x2="442.50" y2="16.5"/><line x1="460.50" y1="809.5" x2="460.50" y2="799.5"/><line x1="460.50" y1="11.5" x2="460.50" y2="21.5"/><line x1="574.50" y1="809.5" x2="574.50" y2="804.5"/><line x1="574.50" y1="11.5" x2="574.50" y2="16.5"/><line x1="641.50" y1="809.5" x2="641.50" y2="804.5"/><line x1="641.50" y1="11.5" x2="641.50" y2="16.5"/><line x1="689.50" y1="809.5" x2="689.50" y2="804.5"/><line x1="689.50" y1="11.5" x2="689.50" y2="16.5"/><line x1="726.50" y1="809.5" x2="726.50" y2="804.5"/><line x1="726.50" y1="11.5" x2="726.50" y2="16.5"/><line x1="756.50" y1="809.5" x2="756.50" y2="804.5"/><line x1="756.50" y1="11.5" x2="756.50" y2="16.5"/><line x1="782.50" y1="809.5" x2="782.50" y2="804.5"/><line x1="782.50" y1="11.5" x2="782.50" y2="16.5"/><line x1="804.50" y1="809.5" x2="804.50" y2="804.5"/><line x1="804.50" y1="11.5" x2="804.50" y2="16.5"/><line x1="823.50" y1="809.5" x2="823.50" y2="804.5"/><line x1="823.50" y1="11.5" x2="823.50" y2="16.5"/><line x1="841.50" y1="809.5" x2="841.50" y2="799.5"/><line x1="841.50" y1="11.5" x2="841.50" y2="21.5"/><line x1="955.50" y1="809.5" x2="955.50" y2="804.5"/><line x1="955.50" y1="11.5" x2="955.50" y2="16.5"/><line x1="79.8" y1="11.50" x2="89.8" y2="11.50"/><line x1="992.5" y1="11.50" x2="982.5" y2="11.50"/><line x1="79.8" y1="150.50" x2="84.8" y2="150.50"/><line x1="992.5" y1="150.50" x2="987.5" y2="150.50"/><line x1="79.8" y1="115.50" x2="84.8" y2="115.50"/><line x1="992.5" y1="115.50" x2="987.5" y2="115.50"/><line x1="79.8" y1="90.50" x2="84.8" y2="90.50"/><line x1="992.5" y1="90.50" x2="987.5" y2="90.50"/><line x1="79.8" y1="71.50" x2="84.8" y2="71.50"/><line x1="992.5" y1="71.50" x2="987.5" y2="71.50"/><line x1="79.8" y1="55.50" x2="84.8" y2="55.50"/><line x1="992.5" y1="55.50" x2="987.5" y2="55.50"/><line x1="79.8" y1="42.50" x2="84.8" y2="42.50"/><line x1="992.5" y1="42.50" x2="987.5" y2="42.50"/><line x1="79.8" y1="30.50" x2="84.8" y2="30.50"/><line x1="992.5" y1="30.50" x2="987.5" y2="30.50"/><line x1="79.8" y1="20.50" x2="84.8" y2="20.50"/><line x1="992.5" y1="20.50" x2="987.5" y2="20.50"/><line x1="79.8" y1="211.50" x2="89.8" y2="211.50"/><line x1="992.5" y1="211.50" x2="982.5" y2="211.50"/><line x1="79.8" y1="350.50" x2="84.8" y2="350.50"/><line x1="992.5" y1="350.50" x2="987.5" y2="350.50"/><line x1="79.8" y1="315.50" x2="84.8" y2="315.50"/><line x1="992.5" y1="315.50" x2="987.5" y2="315.50"/><line x1="79.8" y1="290.50" x2="84.8" y2="290.50"/><line x1="992.5" y1="290.50" x2="987.5" y2="290.50"/><line x1="79.8" y1="271.50" x2="84.8" y2="271.50"/><line x1="992.5" y1="271.50" x2="987.5" y2="271.50"/><line x1="79.8" y1="255.50" x2="84.8" y2="255.50"/><line x1="992.5" y1="255.50" x2="987.5" y2="255.50"/><line x1="79.8" y1="241.50" x2="84.8" y2="241.50"/><line x1="992.5" y1="241.50" x2="987.5" y2="241.50"/><line x1="79.8" y1="230.50" x2="84.8" y2="230.50"/><line x1="992.5" y1="230.50" x2="987.5" y2="230.50"/><line x1="79.8" y1="220.50" x2="84.8" y2="220.50"/><line x1="992.5" y1="220.50" x2="987.5" y2="220.50"/><line x1="79.8" y1="410.50" x2="89.8" y2="410.50"/><line x1="992.5" y1="410.50" x2="982.5" y2="410.50"/><line x1="79.8" y1="549.50" x2="84.8" y2="549.50"/><line x1="992.5" y1="549.50" x2="987.5" y2="549.50"/><line x1="79.8" y1="514.50" x2="84.8" y2="514.50"/><line x1="992.5" y1="514.50" x2="987.5" y2="514.50"/><line x1="79.8" y1="489.50" x2="84.8" y2="489.50"/><line x1="992.5" y1="489.50" x2="987.5" y2="489.50"/><line x1="79.8" y1="470.50" x2="84.8" y2="470.50"/><line x1="992.5" y1="470.50" x2="987.5" y2="470.50"/><line x1="79.8" y1="454.50" x2="84.8" y2="454.50"/><line x1="992.5" y1="454.50" x2="987.5" y2="454.50"/><line x1="79.8" y1="441.50" x2="84.8" y2="441.50"/><line x1="992.5" y1="441.50" x2="987.5" y2="441.50"/><line x1="79.8" y1="429.50" x2="84.8" y2="429.50"/><line x1="992.5" y1="429.50" x2="987.5" y2="429.50"/><line x1="79.8" y1="419.50" x2="84.8" y2="419.50"/><line x1="992.5" y1="419.50" x2="987.5" y2="419.50"/><line x1="79.8" y1="610.50" x2="89.8" y2="610.50"/><line x1="992.5" y1="610.50" x2="982.5" y2="610.50"/><line x1="79.8" y1="749.50" x2="84.8" y2="749.50"/><line x1="992.5" y1="749.50" x2="987.5" y2="749.50"/><line x1="79.8" y1="714.50" x2="84.8" y2="714.50"/><line x1="992.5" y1="714.50" x2="987.5" y2="714.50"/><line x1="79.8" y1="689.50" x2="84.8" y2="689.50"/><line x1="992.5" y1="689.50" x2="987.5" y2="689.50"/><line x1="79.8" y1="670.50" x2="84.8" y2="670.50"/><line x1="992.5" y1="670.50" x2="987.5" y2="670.50"/><line x1="79.8" y1="654.50" x2="84.8" y2="654.50"/><line x1="992.5" y1="654.50" x2="987.5" y2="654.50"/><line x1="79.8" y1="640.50" x2="84.8" y2="640.50"/><line x1="992.5" y1="640.50" x2="987.5" y2="640.50"/><line x1="79.8" y1="629.50" x2="84.8" y2="629.50"/><line x1="992.5" y1="629.50" x2="987.5" y2="629.50"/><line x1="79.8" y1="619.50" x2="84.8" y2="619.50"/><line x1="992.5" y1="619.50" x2="987.5" y2="619.50"/><line x1="79.8" y1="809.50" x2="89.8" y2="809.50"/><line x1="992.5" y1="809.50" x2="982.5" y2="809.50"/></g>
<g font-family="Liberation Sans" font-size="23.0" fill="#262626"><path d="M40.76,8.70 L40.76,25.10 L39.21,25.10 L39.21,11.73 Q38.21,12.88 35.46,13.37 L35.46,11.98 Q38.61,11.49 39.36,8.70 Z"/><text transform="translate(46.62,25.10) scale(0.865,1)">0</text><text transform="translate(60.06,13.10) scale(0.92,1)" font-size="17.9">0</text><path d="M35.10,209.20 L35.10,225.60 L33.55,225.60 L33.55,212.23 Q32.55,213.38 29.80,213.87 L29.80,212.48 Q32.95,211.99 33.70,209.20 Z"/><text transform="translate(40.96,225.60) scale(0.865,1)">0</text><text transform="translate(55.10,213.60) scale(0.92,1)" font-size="17.9">-</text><path d="M65.98,200.80 L65.98,213.60 L64.68,213.60 L64.68,203.17 Q63.90,204.06 61.88,204.45 L61.88,203.36 Q64.22,202.98 64.83,200.80 Z"/><path d="M35.10,408.70 L35.10,425.10 L33.55,425.10 L33.55,411.73 Q32.55,412.88 29.80,413.37 L29.80,411.98 Q32.95,411.49 33.70,408.70 Z"/><text transform="translate(40.96,425.10) scale(0.865,1)">0</text><text transform="translate(55.10,413.10) scale(0.92,1)" font-size="17.9">-2</text><path d="M35.10,608.20 L35.10,624.60 L33.55,624.60 L33.55,611.23 Q32.55,612.38 29.80,612.87 L29.80,611.48 Q32.95,610.99 33.70,608.20 Z"/><text transform="translate(40.96,624.60) scale(0.865,1)">0</text><text transform="translate(55.10,612.60) scale(0.92,1)" font-size="17.9">-3</text><path d="M35.10,807.70 L35.10,824.10 L33.55,824.10 L33.55,810.73 Q32.55,811.88 29.80,812.37 L29.80,810.98 Q32.95,810.49 33.70,807.70 Z"/><text transform="translate(40.96,824.10) scale(0.865,1)">0</text><text transform="translate(55.10,812.10) scale(0.92,1)" font-size="17.9">-4</text><path d="M68.80,831.10 L68.80,847.50 L67.25,847.50 L67.25,834.13 Q66.25,835.28 63.50,835.77 L63.50,834.38 Q66.65,833.89 67.40,831.10 Z"/><text transform="translate(74.66,847.50) scale(0.865,1)">0</text><text transform="translate(88.96,836.10) scale(0.92,1)" font-size="17.9">0</text><path d="M449.40,831.10 L449.40,847.50 L447.85,847.50 L447.85,834.13 Q446.85,835.28 444.10,835.77 L444.10,834.38 Q447.25,833.89 448.00,831.10 Z"/><text transform="translate(455.26,847.50) scale(0.865,1)">0</text><path d="M474.30,823.50 L474.30,836.30 L473.00,836.30 L473.00,825.87 Q472.22,826.76 470.40,827.15 L470.40,826.06 Q472.53,825.68 473.15,823.50 Z"/><path d="M830.00,831.10 L830.00,847.50 L828.45,847.50 L828.45,834.13 Q827.45,835.28 824.70,835.77 L824.70,834.38 Q827.85,833.89 828.60,831.10 Z"/><text transform="translate(835.86,847.50) scale(0.865,1)">0</text><text transform="translate(850.16,836.10) scale(0.92,1)" font-size="17.9">2</text></g>
<text transform="translate(535.3,876) scale(1,1.03)" text-anchor="middle" font-family="Liberation Sans" font-size="23.3" fill="#262626">Total mean photon number per symbol (N)</text>
<text transform="translate(17.5,410.8) rotate(-90) scale(1,1.03)" text-anchor="middle" font-family="Liberation Sans" font-size="23" fill="#262626">SER</text>
<ellipse cx="737" cy="254.3" rx="12.7" ry="81.2" fill="none" stroke="#000" stroke-width="1.2"/>
<ellipse cx="736.9" cy="487.2" rx="13.4" ry="81.3" fill="none" stroke="#000" stroke-width="1.2"/>
<text transform="translate(761.2,202) scale(1.17,1)" font-family="Liberation Serif" font-style="italic" font-size="23" fill="#000">β</text>
<text transform="translate(774,202) scale(1,1.03)" font-family="Liberation Sans" font-size="23.4" fill="#000">=0, no squeezing</text>
<text transform="translate(763.8,433) scale(1.17,1)" font-family="Liberation Serif" font-style="italic" font-size="23" fill="#000">β</text>
<polygon points="780.00,408.60 780.79,410.71 783.04,410.81 781.28,412.22 781.88,414.39 780.00,413.15 778.12,414.39 778.72,412.22 776.96,410.81 779.21,410.71" fill="#000"/>
<rect x="99.3" y="633.4" width="368.8" height="156.7" fill="#fff" stroke="#262626" stroke-width="1"/><text transform="translate(170.2,655.70) scale(1,1.04)" font-family="Liberation Sans" font-size="20.8" fill="#000">QRD (Simulation)</text><text transform="translate(170.2,681.50) scale(1,1.04)" font-family="Liberation Sans" font-size="20.8" fill="#000">QRD (Theory, eq. (10))</text><text transform="translate(170.2,706.80) scale(1,1.04)" font-family="Liberation Sans" font-size="20.8" fill="#000">QRD (Asymptotic, Theorem 1)</text><text transform="translate(170.2,731.40) scale(1,1.04)" font-family="Liberation Sans" font-size="20.8" fill="#000">Baseline (Simulation)</text><text transform="translate(170.2,756.50) scale(1,1.04)" font-family="Liberation Sans" font-size="20.8" fill="#000">Baseline (Theory, eq. (16))</text><text transform="translate(170.2,782.00) scale(1,1.04)" font-family="Liberation Sans" font-size="20.8" fill="#000">Baseline (Asymptotic, eq. (18))</text><circle cx="135.1" cy="648.1" r="4.0" fill="none" stroke="#0072BD" stroke-width="3.9"/><line x1="106.9" y1="673.9" x2="164.7" y2="673.9" stroke="#D95319" stroke-width="4.0" stroke-dasharray="15.2 15.6"/><line x1="106.9" y1="699.2" x2="164.7" y2="699.2" stroke="#EDB120" stroke-width="4.0" stroke-dasharray="4 3.7"/><rect x="131.2" y="719.9" width="7.8" height="7.8" fill="none" stroke="#7E2F8E" stroke-width="4"/><line x1="106.9" y1="748.9" x2="164.7" y2="748.9" stroke="#77AC30" stroke-width="4.0" stroke-dasharray="15.2 15.6"/><line x1="106.9" y1="774.4" x2="164.7" y2="774.4" stroke="#4DBEEE" stroke-width="4.0" stroke-dasharray="4 3.7"/>
</svg></body></html>
